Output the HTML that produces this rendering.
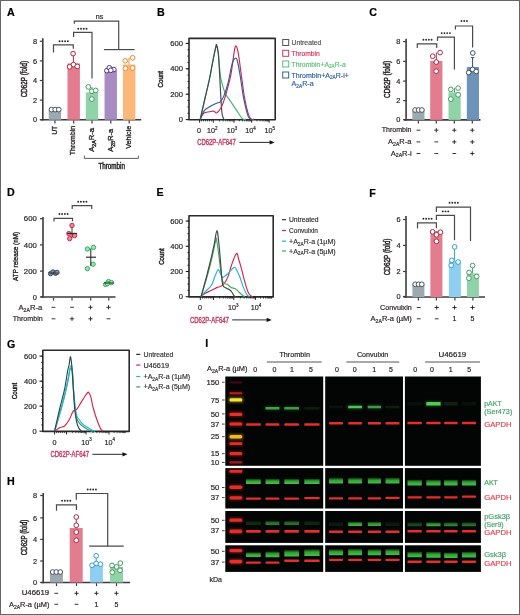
<!DOCTYPE html><html><head><meta charset="utf-8"><style>html,body{margin:0;padding:0;background:#fff;}svg{display:block;will-change:transform;}</style></head><body>
<svg width="520" height="615" viewBox="0 0 520 615" font-family='"Liberation Sans", sans-serif'>
<defs><filter id="bl" x="-20%" y="-100%" width="140%" height="300%"><feGaussianBlur stdDeviation="0.45"/></filter><filter id="bl2" x="-30%" y="-200%" width="160%" height="500%"><feGaussianBlur stdDeviation="1.2"/></filter><linearGradient id="gg" x1="0" y1="0" x2="0" y2="1"><stop offset="0" stop-color="#2a9a2e" stop-opacity="0.35"/><stop offset="0.4" stop-color="#3cc43c" stop-opacity="0.9"/><stop offset="1" stop-color="#50d450" stop-opacity="1"/></linearGradient></defs>
<rect x="0.00" y="0.00" width="520.00" height="615.00" fill="#fff"/>
<text x="7.00" y="16.00" font-size="10.7" fill="#000" stroke="#000" stroke-width="0.2" font-weight="bold">A</text>
<line x1="42.80" y1="38.30" x2="42.80" y2="120.60" stroke="#3c3c3c" stroke-width="1.6"/>
<line x1="40.40" y1="119.80" x2="141.20" y2="119.80" stroke="#3c3c3c" stroke-width="1.6"/>
<line x1="39.80" y1="119.70" x2="42.80" y2="119.70" stroke="#3c3c3c" stroke-width="1.2"/>
<text x="37.20" y="122.36" font-size="7.4" fill="#231f20" stroke="#231f20" stroke-width="0.18" text-anchor="end">0</text>
<line x1="39.80" y1="100.10" x2="42.80" y2="100.10" stroke="#3c3c3c" stroke-width="1.2"/>
<text x="37.20" y="102.76" font-size="7.4" fill="#231f20" stroke="#231f20" stroke-width="0.18" text-anchor="end">2</text>
<line x1="39.80" y1="80.50" x2="42.80" y2="80.50" stroke="#3c3c3c" stroke-width="1.2"/>
<text x="37.20" y="83.16" font-size="7.4" fill="#231f20" stroke="#231f20" stroke-width="0.18" text-anchor="end">4</text>
<line x1="39.80" y1="60.90" x2="42.80" y2="60.90" stroke="#3c3c3c" stroke-width="1.2"/>
<text x="37.20" y="63.56" font-size="7.4" fill="#231f20" stroke="#231f20" stroke-width="0.18" text-anchor="end">6</text>
<line x1="39.80" y1="41.30" x2="42.80" y2="41.30" stroke="#3c3c3c" stroke-width="1.2"/>
<text x="37.20" y="43.96" font-size="7.4" fill="#231f20" stroke="#231f20" stroke-width="0.18" text-anchor="end">8</text>
<rect x="48.70" y="109.60" width="12.40" height="10.20" fill="#9da8b1"/>
<rect x="67.50" y="63.40" width="12.40" height="56.40" fill="#e27c8e"/>
<rect x="85.80" y="92.40" width="12.40" height="27.40" fill="#8fd3a7"/>
<rect x="104.55" y="70.30" width="12.40" height="49.50" fill="#a68cc1"/>
<rect x="123.00" y="64.50" width="12.40" height="55.30" fill="#fcb878"/>
<line x1="54.90" y1="120.60" x2="54.90" y2="123.40" stroke="#3c3c3c" stroke-width="1.2"/>
<line x1="73.70" y1="120.60" x2="73.70" y2="123.40" stroke="#3c3c3c" stroke-width="1.2"/>
<line x1="92.00" y1="120.60" x2="92.00" y2="123.40" stroke="#3c3c3c" stroke-width="1.2"/>
<line x1="110.75" y1="120.60" x2="110.75" y2="123.40" stroke="#3c3c3c" stroke-width="1.2"/>
<line x1="129.20" y1="120.60" x2="129.20" y2="123.40" stroke="#3c3c3c" stroke-width="1.2"/>
<line x1="73.40" y1="53.60" x2="73.40" y2="63.40" stroke="#ab2d4a" stroke-width="1.0"/>
<line x1="129.00" y1="57.80" x2="129.00" y2="64.50" stroke="#ee8a30" stroke-width="1.0"/>
<line x1="92.00" y1="87.00" x2="92.00" y2="92.40" stroke="#449d62" stroke-width="1.0"/>
<circle cx="51.50" cy="109.60" r="2.35" stroke="#4a5560" stroke-width="1.0" fill="#fff"/>
<circle cx="55.20" cy="109.60" r="2.35" stroke="#4a5560" stroke-width="1.0" fill="#fff"/>
<circle cx="58.80" cy="109.60" r="2.35" stroke="#4a5560" stroke-width="1.0" fill="#fff"/>
<circle cx="73.10" cy="53.60" r="2.35" stroke="#ab2d4a" stroke-width="1.0" fill="#fff"/>
<circle cx="69.60" cy="66.80" r="2.35" stroke="#ab2d4a" stroke-width="1.0" fill="#fff"/>
<circle cx="73.50" cy="64.60" r="2.35" stroke="#ab2d4a" stroke-width="1.0" fill="#fff"/>
<circle cx="77.30" cy="66.40" r="2.35" stroke="#ab2d4a" stroke-width="1.0" fill="#fff"/>
<circle cx="88.30" cy="86.90" r="2.35" stroke="#449d62" stroke-width="1.0" fill="#fff"/>
<circle cx="91.80" cy="91.30" r="2.35" stroke="#449d62" stroke-width="1.0" fill="#fff"/>
<circle cx="95.70" cy="90.40" r="2.35" stroke="#449d62" stroke-width="1.0" fill="#fff"/>
<circle cx="91.80" cy="99.10" r="2.35" stroke="#449d62" stroke-width="1.0" fill="#fff"/>
<circle cx="106.90" cy="70.60" r="2.35" stroke="#553a86" stroke-width="1.0" fill="#fff"/>
<circle cx="109.30" cy="67.80" r="2.35" stroke="#553a86" stroke-width="1.0" fill="#fff"/>
<circle cx="113.80" cy="69.50" r="2.35" stroke="#553a86" stroke-width="1.0" fill="#fff"/>
<circle cx="110.80" cy="70.30" r="2.35" stroke="#553a86" stroke-width="1.0" fill="#fff"/>
<circle cx="125.20" cy="60.80" r="2.35" stroke="#ee8a30" stroke-width="1.0" fill="#fff"/>
<circle cx="132.70" cy="57.80" r="2.35" stroke="#ee8a30" stroke-width="1.0" fill="#fff"/>
<circle cx="125.40" cy="68.40" r="2.35" stroke="#ee8a30" stroke-width="1.0" fill="#fff"/>
<circle cx="132.50" cy="68.00" r="2.35" stroke="#ee8a30" stroke-width="1.0" fill="#fff"/>
<path d="M53.5,52.6 V44.9 H73.3 V48.8" stroke="#4a4a4a" stroke-width="1.2" fill="none"/>
<circle cx="59.58" cy="41.30" r="0.95" fill="#2a2a2a"/>
<circle cx="62.33" cy="41.30" r="0.95" fill="#2a2a2a"/>
<circle cx="65.08" cy="41.30" r="0.95" fill="#2a2a2a"/>
<circle cx="67.83" cy="41.30" r="0.95" fill="#2a2a2a"/>
<path d="M73.6,37.0 V32.3 H92.0 V78.6" stroke="#4a4a4a" stroke-width="1.2" fill="none"/>
<circle cx="78.28" cy="28.70" r="0.95" fill="#2a2a2a"/>
<circle cx="81.03" cy="28.70" r="0.95" fill="#2a2a2a"/>
<circle cx="83.78" cy="28.70" r="0.95" fill="#2a2a2a"/>
<circle cx="86.53" cy="28.70" r="0.95" fill="#2a2a2a"/>
<path d="M74.3,23.8 V21.1 H118.7 V49.6" stroke="#4a4a4a" stroke-width="1.2" fill="none"/>
<path d="M103.9,49.6 H134.6" stroke="#4a4a4a" stroke-width="1.2" fill="none"/>
<text x="99.50" y="18.50" font-size="7.2" fill="#231f20" stroke="#231f20" stroke-width="0.18" text-anchor="middle">ns</text>
<text x="56.91" y="126.00" font-size="7.4" fill="#231f20" stroke="#231f20" stroke-width="0.32" text-anchor="end" textLength="8.60" lengthAdjust="spacingAndGlyphs" transform="rotate(-90 56.91 126.00)">UT</text>
<text x="75.16" y="125.80" font-size="7.4" fill="#231f20" stroke="#231f20" stroke-width="0.32" text-anchor="end" textLength="29.40" lengthAdjust="spacingAndGlyphs" transform="rotate(-90 75.16 125.80)">Thrombin</text>
<text x="94.26" y="128.00" font-size="7.4" fill="#231f20" stroke="#231f20" stroke-width="0.32" text-anchor="end" textLength="23.80" lengthAdjust="spacingAndGlyphs" transform="rotate(-90 94.26 128.00)">A<tspan font-size="0.68em" dy="1.8">2A</tspan><tspan dy="-1.8">R-a</tspan></text>
<text x="112.86" y="128.80" font-size="7.4" fill="#231f20" stroke="#231f20" stroke-width="0.32" text-anchor="end" textLength="23.00" lengthAdjust="spacingAndGlyphs" transform="rotate(-90 112.86 128.80)">A<tspan font-size="0.68em" dy="1.8">2B</tspan><tspan dy="-1.8">R-a</tspan></text>
<text x="130.76" y="125.80" font-size="7.4" fill="#231f20" stroke="#231f20" stroke-width="0.32" text-anchor="end" textLength="23.00" lengthAdjust="spacingAndGlyphs" transform="rotate(-90 130.76 125.80)">Vehicle</text>
<path d="M84.4,155.6 V158.4 H138.4 V155.6" stroke="#4a4a4a" stroke-width="0.9" fill="none"/>
<text x="111.70" y="169.10" font-size="8.2" fill="#231f20" stroke="#231f20" stroke-width="0.45" text-anchor="middle" textLength="26.60" lengthAdjust="spacingAndGlyphs">Thrombin</text>
<text x="27.20" y="79.10" font-size="8.2" fill="#231f20" stroke="#231f20" stroke-width="0.45" text-anchor="middle" textLength="36.20" lengthAdjust="spacingAndGlyphs" transform="rotate(-90 27.20 79.10)">CD62P (fold)</text>
<text x="157.00" y="16.00" font-size="10.7" fill="#000" stroke="#000" stroke-width="0.2" font-weight="bold">B</text>
<rect x="189.00" y="38.40" width="86.20" height="81.30" fill="none" stroke="#2a2a2a" stroke-width="1.6" stroke-linejoin="round"/>
<line x1="185.70" y1="119.60" x2="189.00" y2="119.60" stroke="#1e1e1e" stroke-width="1.1"/>
<text x="182.90" y="122.19" font-size="7.2" fill="#231f20" stroke="#231f20" stroke-width="0.18" text-anchor="end" textLength="4.20" lengthAdjust="spacingAndGlyphs">0</text>
<line x1="185.70" y1="94.20" x2="189.00" y2="94.20" stroke="#1e1e1e" stroke-width="1.1"/>
<text x="182.90" y="96.79" font-size="7.2" fill="#231f20" stroke="#231f20" stroke-width="0.18" text-anchor="end" textLength="12.70" lengthAdjust="spacingAndGlyphs">200</text>
<line x1="185.70" y1="68.80" x2="189.00" y2="68.80" stroke="#1e1e1e" stroke-width="1.1"/>
<text x="182.90" y="71.39" font-size="7.2" fill="#231f20" stroke="#231f20" stroke-width="0.18" text-anchor="end" textLength="12.70" lengthAdjust="spacingAndGlyphs">400</text>
<line x1="185.70" y1="43.40" x2="189.00" y2="43.40" stroke="#1e1e1e" stroke-width="1.1"/>
<text x="182.90" y="45.99" font-size="7.2" fill="#231f20" stroke="#231f20" stroke-width="0.18" text-anchor="end" textLength="12.70" lengthAdjust="spacingAndGlyphs">600</text>
<line x1="187.40" y1="113.25" x2="189.00" y2="113.25" stroke="#1e1e1e" stroke-width="0.9"/>
<line x1="187.40" y1="106.90" x2="189.00" y2="106.90" stroke="#1e1e1e" stroke-width="0.9"/>
<line x1="187.40" y1="100.55" x2="189.00" y2="100.55" stroke="#1e1e1e" stroke-width="0.9"/>
<line x1="187.40" y1="94.20" x2="189.00" y2="94.20" stroke="#1e1e1e" stroke-width="0.9"/>
<line x1="187.40" y1="87.85" x2="189.00" y2="87.85" stroke="#1e1e1e" stroke-width="0.9"/>
<line x1="187.40" y1="81.50" x2="189.00" y2="81.50" stroke="#1e1e1e" stroke-width="0.9"/>
<line x1="187.40" y1="75.15" x2="189.00" y2="75.15" stroke="#1e1e1e" stroke-width="0.9"/>
<line x1="187.40" y1="68.80" x2="189.00" y2="68.80" stroke="#1e1e1e" stroke-width="0.9"/>
<line x1="187.40" y1="62.45" x2="189.00" y2="62.45" stroke="#1e1e1e" stroke-width="0.9"/>
<line x1="187.40" y1="56.10" x2="189.00" y2="56.10" stroke="#1e1e1e" stroke-width="0.9"/>
<line x1="187.40" y1="49.75" x2="189.00" y2="49.75" stroke="#1e1e1e" stroke-width="0.9"/>
<line x1="187.40" y1="43.40" x2="189.00" y2="43.40" stroke="#1e1e1e" stroke-width="0.9"/>
<line x1="201.50" y1="119.70" x2="201.50" y2="121.40" stroke="#1e1e1e" stroke-width="0.8"/>
<line x1="203.50" y1="119.70" x2="203.50" y2="121.40" stroke="#1e1e1e" stroke-width="0.8"/>
<line x1="205.50" y1="119.70" x2="205.50" y2="121.40" stroke="#1e1e1e" stroke-width="0.8"/>
<line x1="207.50" y1="119.70" x2="207.50" y2="121.40" stroke="#1e1e1e" stroke-width="0.8"/>
<line x1="209.50" y1="119.70" x2="209.50" y2="121.40" stroke="#1e1e1e" stroke-width="0.8"/>
<line x1="211.40" y1="119.70" x2="211.40" y2="121.40" stroke="#1e1e1e" stroke-width="0.8"/>
<line x1="219.53" y1="119.70" x2="219.53" y2="121.40" stroke="#1e1e1e" stroke-width="0.8"/>
<line x1="223.18" y1="119.70" x2="223.18" y2="121.40" stroke="#1e1e1e" stroke-width="0.8"/>
<line x1="225.76" y1="119.70" x2="225.76" y2="121.40" stroke="#1e1e1e" stroke-width="0.8"/>
<line x1="227.77" y1="119.70" x2="227.77" y2="121.40" stroke="#1e1e1e" stroke-width="0.8"/>
<line x1="229.41" y1="119.70" x2="229.41" y2="121.40" stroke="#1e1e1e" stroke-width="0.8"/>
<line x1="230.79" y1="119.70" x2="230.79" y2="121.40" stroke="#1e1e1e" stroke-width="0.8"/>
<line x1="231.99" y1="119.70" x2="231.99" y2="121.40" stroke="#1e1e1e" stroke-width="0.8"/>
<line x1="233.05" y1="119.70" x2="233.05" y2="121.40" stroke="#1e1e1e" stroke-width="0.8"/>
<line x1="239.33" y1="119.70" x2="239.33" y2="121.40" stroke="#1e1e1e" stroke-width="0.8"/>
<line x1="242.45" y1="119.70" x2="242.45" y2="121.40" stroke="#1e1e1e" stroke-width="0.8"/>
<line x1="244.66" y1="119.70" x2="244.66" y2="121.40" stroke="#1e1e1e" stroke-width="0.8"/>
<line x1="246.37" y1="119.70" x2="246.37" y2="121.40" stroke="#1e1e1e" stroke-width="0.8"/>
<line x1="247.77" y1="119.70" x2="247.77" y2="121.40" stroke="#1e1e1e" stroke-width="0.8"/>
<line x1="248.96" y1="119.70" x2="248.96" y2="121.40" stroke="#1e1e1e" stroke-width="0.8"/>
<line x1="249.98" y1="119.70" x2="249.98" y2="121.40" stroke="#1e1e1e" stroke-width="0.8"/>
<line x1="250.89" y1="119.70" x2="250.89" y2="121.40" stroke="#1e1e1e" stroke-width="0.8"/>
<line x1="256.94" y1="119.70" x2="256.94" y2="121.40" stroke="#1e1e1e" stroke-width="0.8"/>
<line x1="260.00" y1="119.70" x2="260.00" y2="121.40" stroke="#1e1e1e" stroke-width="0.8"/>
<line x1="262.18" y1="119.70" x2="262.18" y2="121.40" stroke="#1e1e1e" stroke-width="0.8"/>
<line x1="263.86" y1="119.70" x2="263.86" y2="121.40" stroke="#1e1e1e" stroke-width="0.8"/>
<line x1="265.24" y1="119.70" x2="265.24" y2="121.40" stroke="#1e1e1e" stroke-width="0.8"/>
<line x1="266.40" y1="119.70" x2="266.40" y2="121.40" stroke="#1e1e1e" stroke-width="0.8"/>
<line x1="267.41" y1="119.70" x2="267.41" y2="121.40" stroke="#1e1e1e" stroke-width="0.8"/>
<line x1="268.30" y1="119.70" x2="268.30" y2="121.40" stroke="#1e1e1e" stroke-width="0.8"/>
<line x1="199.60" y1="119.70" x2="199.60" y2="122.70" stroke="#1e1e1e" stroke-width="1.0"/>
<line x1="213.30" y1="119.70" x2="213.30" y2="122.70" stroke="#1e1e1e" stroke-width="1.0"/>
<line x1="234.00" y1="119.70" x2="234.00" y2="122.70" stroke="#1e1e1e" stroke-width="1.0"/>
<line x1="251.70" y1="119.70" x2="251.70" y2="122.70" stroke="#1e1e1e" stroke-width="1.0"/>
<line x1="269.10" y1="119.70" x2="269.10" y2="122.70" stroke="#1e1e1e" stroke-width="1.0"/>
<text x="199.10" y="132.89" font-size="7.2" fill="#231f20" stroke="#231f20" stroke-width="0.18" text-anchor="middle">0</text>
<text x="206.90" y="132.70" font-size="7.2" fill="#231f20" stroke="#231f20" stroke-width="0.18">10<tspan font-size="4.46" dy="-3.2">2</tspan></text>
<text x="226.70" y="132.70" font-size="7.2" fill="#231f20" stroke="#231f20" stroke-width="0.18">10<tspan font-size="4.46" dy="-3.2">3</tspan></text>
<text x="245.30" y="132.70" font-size="7.2" fill="#231f20" stroke="#231f20" stroke-width="0.18">10<tspan font-size="4.46" dy="-3.2">4</tspan></text>
<text x="264.50" y="132.70" font-size="7.2" fill="#231f20" stroke="#231f20" stroke-width="0.18">10<tspan font-size="4.46" dy="-3.2">5</tspan></text>
<text x="163.50" y="79.20" font-size="7.6" fill="#231f20" stroke="#231f20" stroke-width="0.45" text-anchor="middle" textLength="16.60" lengthAdjust="spacingAndGlyphs" transform="rotate(-90 163.50 79.20)">Count</text>
<text x="197.20" y="145.35" font-size="8.2" fill="#c43a60" stroke="#c43a60" stroke-width="0.4" textLength="38.50" lengthAdjust="spacingAndGlyphs">CD62P-AF647</text>
<line x1="239.50" y1="142.40" x2="271.10" y2="142.40" stroke="#111" stroke-width="0.9"/>
<path d="M274.60,142.40 L269.60,140.30 L269.60,144.50 Z" fill="#111"/>
<path d="M200.20,119.40 C201.03,115.75 203.65,104.25 205.20,97.50 C206.75,90.75 208.20,85.10 209.50,78.90 C210.80,72.70 211.93,65.67 213.00,60.30 C214.07,54.93 215.30,49.20 215.90,46.70 C216.50,44.20 216.20,44.22 216.60,45.30 C217.00,46.38 217.82,49.58 218.30,53.20 C218.78,56.82 219.07,62.72 219.50,67.00 C219.93,71.28 219.95,74.53 220.90,78.90 C221.85,83.27 223.53,89.38 225.20,93.20 C226.87,97.02 229.00,98.93 230.90,101.80 C232.80,104.67 234.68,107.60 236.60,110.40 C238.52,113.20 240.83,117.10 242.40,118.60 C243.97,120.10 245.40,119.27 246.00,119.40" stroke="#3fb36a" stroke-width="1.15" fill="none" stroke-linejoin="round"/>
<path d="M200.20,119.40 C201.03,115.75 203.65,104.25 205.20,97.50 C206.75,90.75 208.20,85.10 209.50,78.90 C210.80,72.70 211.93,65.67 213.00,60.30 C214.07,54.93 215.30,49.25 215.90,46.70 C216.50,44.15 216.20,43.92 216.60,45.00 C217.00,46.08 217.82,48.73 218.30,53.20 C218.78,57.67 219.12,65.13 219.50,71.80 C219.88,78.47 220.18,86.28 220.60,93.20 C221.02,100.12 221.47,109.00 222.00,113.30 C222.53,117.60 223.13,117.98 223.80,119.00 C224.47,120.02 225.63,119.33 226.00,119.40" stroke="#3d4a4a" stroke-width="1.15" fill="none" stroke-linejoin="round"/>
<path d="M200.20,119.40 C200.78,118.38 202.15,114.57 203.70,113.30 C205.25,112.03 207.82,112.17 209.50,111.80 C211.18,111.43 212.62,110.90 213.80,111.10 C214.98,111.30 215.53,113.35 216.60,113.00 C217.67,112.65 219.13,110.63 220.20,109.00 C221.27,107.37 221.93,106.07 223.00,103.20 C224.07,100.33 225.28,96.57 226.60,91.80 C227.92,87.03 229.70,80.80 230.90,74.60 C232.10,68.40 233.02,59.37 233.80,54.60 C234.58,49.83 234.90,46.48 235.60,46.00 C236.30,45.52 237.12,47.40 238.00,51.70 C238.88,56.00 239.82,64.17 240.90,71.80 C241.98,79.43 243.30,90.58 244.50,97.50 C245.70,104.42 247.02,109.72 248.10,113.30 C249.18,116.88 250.02,117.98 251.00,119.00 C251.98,120.02 253.50,119.33 254.00,119.40" stroke="#d0284c" stroke-width="1.15" fill="none" stroke-linejoin="round"/>
<path d="M200.20,119.40 C200.92,117.90 202.72,112.62 204.50,110.40 C206.28,108.18 208.88,107.30 210.90,106.10 C212.92,104.90 215.05,103.92 216.60,103.20 C218.15,102.48 219.00,102.98 220.20,101.80 C221.40,100.62 222.50,99.20 223.80,96.10 C225.10,93.00 226.58,88.68 228.00,83.20 C229.42,77.72 231.10,67.37 232.30,63.20 C233.50,59.03 234.35,58.57 235.20,58.20 C236.05,57.83 236.57,58.03 237.40,61.00 C238.23,63.97 239.13,69.68 240.20,76.00 C241.27,82.32 242.48,92.22 243.80,98.90 C245.12,105.58 246.90,112.72 248.10,116.10 C249.30,119.48 250.02,118.65 251.00,119.20 C251.98,119.75 253.50,119.37 254.00,119.40" stroke="#2c5d9c" stroke-width="1.15" fill="none" stroke-linejoin="round"/>
<rect x="282.70" y="39.50" width="6" height="6" fill="none" stroke="#555" stroke-width="1"/>
<text x="291.50" y="45.02" font-size="7" fill="#555" stroke="#555" stroke-width="0.18" textLength="29.90" lengthAdjust="spacingAndGlyphs">Untreated</text>
<rect x="282.70" y="50.30" width="6" height="6" fill="none" stroke="#d0385a" stroke-width="1"/>
<text x="291.50" y="55.82" font-size="7" fill="#d0385a" stroke="#d0385a" stroke-width="0.18" textLength="28.30" lengthAdjust="spacingAndGlyphs">Thrombin</text>
<rect x="282.70" y="61.00" width="6" height="6" fill="none" stroke="#5cbf78" stroke-width="1"/>
<text x="291.50" y="66.52" font-size="7" fill="#5cbf78" stroke="#5cbf78" stroke-width="0.18" textLength="54.20" lengthAdjust="spacingAndGlyphs">Thrombin+A<tspan font-size="0.68em" dy="1.8">2A</tspan><tspan dy="-1.8">R-a</tspan></text>
<rect x="282.70" y="72.00" width="6" height="6" fill="none" stroke="#2f62a0" stroke-width="1"/>
<text x="291.50" y="77.52" font-size="7" fill="#2f62a0" stroke="#2f62a0" stroke-width="0.18" textLength="57.30" lengthAdjust="spacingAndGlyphs">Thrombin+A<tspan font-size="0.68em" dy="1.8">2A</tspan><tspan dy="-1.8">R-i+</tspan></text>
<text x="291.50" y="86.42" font-size="7" fill="#2f62a0" stroke="#2f62a0" stroke-width="0.18" textLength="22.20" lengthAdjust="spacingAndGlyphs">A<tspan font-size="0.68em" dy="1.8">2A</tspan><tspan dy="-1.8">R-a</tspan></text>
<text x="369.20" y="16.00" font-size="10.7" fill="#000" stroke="#000" stroke-width="0.2" font-weight="bold">C</text>
<line x1="406.10" y1="38.80" x2="406.10" y2="120.70" stroke="#3c3c3c" stroke-width="1.6"/>
<line x1="403.80" y1="119.90" x2="480.50" y2="119.90" stroke="#3c3c3c" stroke-width="1.6"/>
<line x1="403.10" y1="119.60" x2="406.10" y2="119.60" stroke="#3c3c3c" stroke-width="1.2"/>
<text x="400.30" y="122.26" font-size="7.4" fill="#231f20" stroke="#231f20" stroke-width="0.18" text-anchor="end">0</text>
<line x1="403.10" y1="100.60" x2="406.10" y2="100.60" stroke="#3c3c3c" stroke-width="1.2"/>
<text x="400.30" y="103.26" font-size="7.4" fill="#231f20" stroke="#231f20" stroke-width="0.18" text-anchor="end">2</text>
<line x1="403.10" y1="81.10" x2="406.10" y2="81.10" stroke="#3c3c3c" stroke-width="1.2"/>
<text x="400.30" y="83.76" font-size="7.4" fill="#231f20" stroke="#231f20" stroke-width="0.18" text-anchor="end">4</text>
<line x1="403.10" y1="61.40" x2="406.10" y2="61.40" stroke="#3c3c3c" stroke-width="1.2"/>
<text x="400.30" y="64.06" font-size="7.4" fill="#231f20" stroke="#231f20" stroke-width="0.18" text-anchor="end">6</text>
<line x1="403.10" y1="41.60" x2="406.10" y2="41.60" stroke="#3c3c3c" stroke-width="1.2"/>
<text x="400.30" y="44.26" font-size="7.4" fill="#231f20" stroke="#231f20" stroke-width="0.18" text-anchor="end">8</text>
<rect x="412.30" y="110.00" width="12.20" height="9.90" fill="#9da8b1"/>
<rect x="430.20" y="61.00" width="12.20" height="58.90" fill="#e27c8e"/>
<rect x="448.50" y="92.30" width="12.20" height="27.60" fill="#8fd3a7"/>
<rect x="466.80" y="67.00" width="12.20" height="52.90" fill="#6d93b8"/>
<line x1="418.40" y1="120.70" x2="418.40" y2="123.50" stroke="#3c3c3c" stroke-width="1.2"/>
<line x1="436.30" y1="120.70" x2="436.30" y2="123.50" stroke="#3c3c3c" stroke-width="1.2"/>
<line x1="454.30" y1="120.70" x2="454.30" y2="123.50" stroke="#3c3c3c" stroke-width="1.2"/>
<line x1="472.30" y1="120.70" x2="472.30" y2="123.50" stroke="#3c3c3c" stroke-width="1.2"/>
<line x1="436.30" y1="52.50" x2="436.30" y2="61.00" stroke="#ab2d4a" stroke-width="1.0"/>
<line x1="472.60" y1="57.60" x2="472.60" y2="67.00" stroke="#3a4c60" stroke-width="1.0"/>
<line x1="471.00" y1="57.60" x2="474.20" y2="57.60" stroke="#3a4c60" stroke-width="1.0"/>
<circle cx="415.10" cy="110.00" r="2.35" stroke="#4a5560" stroke-width="1.0" fill="#fff"/>
<circle cx="418.50" cy="110.00" r="2.35" stroke="#4a5560" stroke-width="1.0" fill="#fff"/>
<circle cx="421.90" cy="110.00" r="2.35" stroke="#4a5560" stroke-width="1.0" fill="#fff"/>
<circle cx="432.70" cy="56.20" r="2.35" stroke="#ab2d4a" stroke-width="1.0" fill="#fff"/>
<circle cx="440.10" cy="52.60" r="2.35" stroke="#ab2d4a" stroke-width="1.0" fill="#fff"/>
<circle cx="436.30" cy="62.10" r="2.35" stroke="#ab2d4a" stroke-width="1.0" fill="#fff"/>
<circle cx="436.20" cy="71.20" r="2.35" stroke="#ab2d4a" stroke-width="1.0" fill="#fff"/>
<line x1="454.50" y1="88.20" x2="454.50" y2="92.30" stroke="#449d62" stroke-width="1.0"/>
<circle cx="450.80" cy="89.40" r="2.35" stroke="#449d62" stroke-width="1.0" fill="#fff"/>
<circle cx="458.10" cy="88.10" r="2.35" stroke="#449d62" stroke-width="1.0" fill="#fff"/>
<circle cx="458.10" cy="94.80" r="2.35" stroke="#449d62" stroke-width="1.0" fill="#fff"/>
<circle cx="450.80" cy="99.10" r="2.35" stroke="#449d62" stroke-width="1.0" fill="#fff"/>
<circle cx="472.80" cy="53.00" r="2.35" stroke="#3a5068" stroke-width="1.0" fill="#fff"/>
<circle cx="468.70" cy="72.60" r="2.35" stroke="#3a5068" stroke-width="1.0" fill="#fff"/>
<circle cx="472.60" cy="69.40" r="2.35" stroke="#3a5068" stroke-width="1.0" fill="#fff"/>
<circle cx="476.20" cy="71.50" r="2.35" stroke="#3a5068" stroke-width="1.0" fill="#fff"/>
<path d="M417.3,47.9 V43.8 H436.7 V47.9" stroke="#4a4a4a" stroke-width="1.2" fill="none"/>
<circle cx="423.38" cy="39.80" r="0.95" fill="#2a2a2a"/>
<circle cx="426.12" cy="39.80" r="0.95" fill="#2a2a2a"/>
<circle cx="428.88" cy="39.80" r="0.95" fill="#2a2a2a"/>
<circle cx="431.62" cy="39.80" r="0.95" fill="#2a2a2a"/>
<path d="M437.5,41.0 V37.1 H454.4 V69.6" stroke="#4a4a4a" stroke-width="1.2" fill="none"/>
<circle cx="441.68" cy="33.10" r="0.95" fill="#2a2a2a"/>
<circle cx="444.43" cy="33.10" r="0.95" fill="#2a2a2a"/>
<circle cx="447.18" cy="33.10" r="0.95" fill="#2a2a2a"/>
<circle cx="449.93" cy="33.10" r="0.95" fill="#2a2a2a"/>
<path d="M455.4,29.4 V26.0 H472.6 V47.6" stroke="#4a4a4a" stroke-width="1.2" fill="none"/>
<circle cx="461.45" cy="21.00" r="0.95" fill="#2a2a2a"/>
<circle cx="464.20" cy="21.00" r="0.95" fill="#2a2a2a"/>
<circle cx="466.95" cy="21.00" r="0.95" fill="#2a2a2a"/>
<text x="389.70" y="79.40" font-size="8.2" fill="#231f20" stroke="#231f20" stroke-width="0.45" text-anchor="middle" textLength="37.00" lengthAdjust="spacingAndGlyphs" transform="rotate(-90 389.70 79.40)">CD62P (fold)</text>
<text x="411.50" y="132.10" font-size="7" fill="#231f20" stroke="#231f20" stroke-width="0.18" text-anchor="end" textLength="29.80" lengthAdjust="spacingAndGlyphs">Thrombin</text>
<text x="411.30" y="143.90" font-size="7" fill="#231f20" stroke="#231f20" stroke-width="0.18" text-anchor="end" textLength="23.20" lengthAdjust="spacingAndGlyphs">A<tspan font-size="0.68em" dy="1.8">2A</tspan><tspan dy="-1.8">R-a</tspan></text>
<text x="411.80" y="155.50" font-size="7" fill="#231f20" stroke="#231f20" stroke-width="0.18" text-anchor="end" textLength="21.10" lengthAdjust="spacingAndGlyphs">A<tspan font-size="0.68em" dy="1.8">2A</tspan><tspan dy="-1.8">R-i</tspan></text>
<line x1="416.50" y1="130.20" x2="420.30" y2="130.20" stroke="#231f20" stroke-width="0.9"/>
<line x1="416.50" y1="141.90" x2="420.30" y2="141.90" stroke="#231f20" stroke-width="0.9"/>
<line x1="416.50" y1="153.50" x2="420.30" y2="153.50" stroke="#231f20" stroke-width="0.9"/>
<line x1="434.20" y1="130.20" x2="438.40" y2="130.20" stroke="#231f20" stroke-width="0.9"/>
<line x1="436.30" y1="128.10" x2="436.30" y2="132.30" stroke="#231f20" stroke-width="0.9"/>
<line x1="434.40" y1="141.90" x2="438.20" y2="141.90" stroke="#231f20" stroke-width="0.9"/>
<line x1="434.40" y1="153.50" x2="438.20" y2="153.50" stroke="#231f20" stroke-width="0.9"/>
<line x1="452.20" y1="130.20" x2="456.40" y2="130.20" stroke="#231f20" stroke-width="0.9"/>
<line x1="454.30" y1="128.10" x2="454.30" y2="132.30" stroke="#231f20" stroke-width="0.9"/>
<line x1="452.20" y1="141.90" x2="456.40" y2="141.90" stroke="#231f20" stroke-width="0.9"/>
<line x1="454.30" y1="139.80" x2="454.30" y2="144.00" stroke="#231f20" stroke-width="0.9"/>
<line x1="452.40" y1="153.50" x2="456.20" y2="153.50" stroke="#231f20" stroke-width="0.9"/>
<line x1="470.20" y1="130.20" x2="474.40" y2="130.20" stroke="#231f20" stroke-width="0.9"/>
<line x1="472.30" y1="128.10" x2="472.30" y2="132.30" stroke="#231f20" stroke-width="0.9"/>
<line x1="470.20" y1="141.90" x2="474.40" y2="141.90" stroke="#231f20" stroke-width="0.9"/>
<line x1="472.30" y1="139.80" x2="472.30" y2="144.00" stroke="#231f20" stroke-width="0.9"/>
<line x1="470.20" y1="153.50" x2="474.40" y2="153.50" stroke="#231f20" stroke-width="0.9"/>
<line x1="472.30" y1="151.40" x2="472.30" y2="155.60" stroke="#231f20" stroke-width="0.9"/>
<text x="7.00" y="196.20" font-size="10.7" fill="#000" stroke="#000" stroke-width="0.2" font-weight="bold">D</text>
<line x1="43.00" y1="217.00" x2="43.00" y2="297.80" stroke="#3c3c3c" stroke-width="1.6"/>
<line x1="40.80" y1="297.00" x2="115.50" y2="297.00" stroke="#3c3c3c" stroke-width="1.6"/>
<line x1="40.00" y1="296.90" x2="43.00" y2="296.90" stroke="#3c3c3c" stroke-width="1.2"/>
<text x="36.80" y="299.56" font-size="7.4" fill="#231f20" stroke="#231f20" stroke-width="0.18" text-anchor="end">0</text>
<line x1="40.00" y1="271.10" x2="43.00" y2="271.10" stroke="#3c3c3c" stroke-width="1.2"/>
<text x="36.80" y="273.76" font-size="7.4" fill="#231f20" stroke="#231f20" stroke-width="0.18" text-anchor="end" textLength="13.00" lengthAdjust="spacingAndGlyphs">200</text>
<line x1="40.00" y1="244.90" x2="43.00" y2="244.90" stroke="#3c3c3c" stroke-width="1.2"/>
<text x="36.80" y="247.56" font-size="7.4" fill="#231f20" stroke="#231f20" stroke-width="0.18" text-anchor="end" textLength="13.00" lengthAdjust="spacingAndGlyphs">400</text>
<line x1="40.00" y1="218.70" x2="43.00" y2="218.70" stroke="#3c3c3c" stroke-width="1.2"/>
<text x="36.80" y="221.36" font-size="7.4" fill="#231f20" stroke="#231f20" stroke-width="0.18" text-anchor="end" textLength="13.00" lengthAdjust="spacingAndGlyphs">600</text>
<line x1="53.50" y1="297.80" x2="53.50" y2="300.60" stroke="#3c3c3c" stroke-width="1.2"/>
<line x1="72.00" y1="297.80" x2="72.00" y2="300.60" stroke="#3c3c3c" stroke-width="1.2"/>
<line x1="90.70" y1="297.80" x2="90.70" y2="300.60" stroke="#3c3c3c" stroke-width="1.2"/>
<line x1="108.80" y1="297.80" x2="108.80" y2="300.60" stroke="#3c3c3c" stroke-width="1.2"/>
<text x="17.60" y="256.40" font-size="7.6" fill="#231f20" stroke="#231f20" stroke-width="0.35" text-anchor="middle" textLength="49.00" lengthAdjust="spacingAndGlyphs" transform="rotate(-90 17.60 256.40)">ATP release (nM)</text>
<circle cx="50.60" cy="273.60" r="2.2" stroke="#3a4858" stroke-width="1.0" fill="#8699ac"/>
<circle cx="53.00" cy="272.00" r="2.2" stroke="#3a4858" stroke-width="1.0" fill="#8699ac"/>
<circle cx="55.60" cy="273.20" r="2.2" stroke="#3a4858" stroke-width="1.0" fill="#8699ac"/>
<circle cx="57.00" cy="272.40" r="2.2" stroke="#3a4858" stroke-width="1.0" fill="#8699ac"/>
<circle cx="72.00" cy="225.40" r="2.2" stroke="#cc2a48" stroke-width="1.0" fill="#ef8696"/>
<circle cx="68.90" cy="233.60" r="2.2" stroke="#cc2a48" stroke-width="1.0" fill="#ef8696"/>
<circle cx="74.60" cy="235.60" r="2.2" stroke="#cc2a48" stroke-width="1.0" fill="#ef8696"/>
<circle cx="69.70" cy="238.60" r="2.2" stroke="#cc2a48" stroke-width="1.0" fill="#ef8696"/>
<circle cx="87.40" cy="249.00" r="2.2" stroke="#35b05a" stroke-width="1.0" fill="#9de3b3"/>
<circle cx="93.50" cy="247.40" r="2.2" stroke="#35b05a" stroke-width="1.0" fill="#9de3b3"/>
<circle cx="93.10" cy="264.20" r="2.2" stroke="#35b05a" stroke-width="1.0" fill="#9de3b3"/>
<circle cx="87.40" cy="268.60" r="2.2" stroke="#35b05a" stroke-width="1.0" fill="#9de3b3"/>
<circle cx="105.60" cy="284.40" r="2.2" stroke="#35b05a" stroke-width="1.0" fill="#9de3b3"/>
<circle cx="108.60" cy="281.60" r="2.2" stroke="#35b05a" stroke-width="1.0" fill="#9de3b3"/>
<circle cx="111.50" cy="282.60" r="2.2" stroke="#35b05a" stroke-width="1.0" fill="#9de3b3"/>
<circle cx="107.40" cy="283.60" r="2.2" stroke="#35b05a" stroke-width="1.0" fill="#9de3b3"/>
<line x1="67.20" y1="233.40" x2="77.00" y2="233.40" stroke="#222" stroke-width="1.1"/>
<line x1="72.00" y1="227.50" x2="72.00" y2="237.50" stroke="#222" stroke-width="0.9"/>
<line x1="86.00" y1="257.20" x2="96.00" y2="257.20" stroke="#222" stroke-width="1.1"/>
<line x1="90.80" y1="248.50" x2="90.80" y2="266.00" stroke="#222" stroke-width="1.0"/>
<line x1="104.00" y1="283.00" x2="113.80" y2="283.00" stroke="#222" stroke-width="1.0"/>
<line x1="49.00" y1="273.00" x2="58.50" y2="273.00" stroke="#222" stroke-width="0.8"/>
<path d="M54.0,221.4 V218.3 H72.5 V221.2" stroke="#4a4a4a" stroke-width="1.2" fill="none"/>
<circle cx="59.38" cy="214.00" r="0.95" fill="#2a2a2a"/>
<circle cx="62.12" cy="214.00" r="0.95" fill="#2a2a2a"/>
<circle cx="64.88" cy="214.00" r="0.95" fill="#2a2a2a"/>
<circle cx="67.62" cy="214.00" r="0.95" fill="#2a2a2a"/>
<path d="M72.2,209.0 V205.6 H91.7 V209.0" stroke="#4a4a4a" stroke-width="1.2" fill="none"/>
<circle cx="78.17" cy="201.70" r="0.95" fill="#2a2a2a"/>
<circle cx="80.92" cy="201.70" r="0.95" fill="#2a2a2a"/>
<circle cx="83.67" cy="201.70" r="0.95" fill="#2a2a2a"/>
<circle cx="86.42" cy="201.70" r="0.95" fill="#2a2a2a"/>
<text x="42.20" y="309.80" font-size="7" fill="#231f20" stroke="#231f20" stroke-width="0.18" text-anchor="end" textLength="23.70" lengthAdjust="spacingAndGlyphs">A<tspan font-size="0.68em" dy="1.8">2A</tspan><tspan dy="-1.8">R-a</tspan></text>
<text x="42.70" y="321.30" font-size="7" fill="#231f20" stroke="#231f20" stroke-width="0.18" text-anchor="end" textLength="30.00" lengthAdjust="spacingAndGlyphs">Thrombin</text>
<line x1="51.60" y1="307.30" x2="55.40" y2="307.30" stroke="#231f20" stroke-width="0.9"/>
<line x1="51.60" y1="318.80" x2="55.40" y2="318.80" stroke="#231f20" stroke-width="0.9"/>
<line x1="70.10" y1="307.30" x2="73.90" y2="307.30" stroke="#231f20" stroke-width="0.9"/>
<line x1="69.90" y1="318.80" x2="74.10" y2="318.80" stroke="#231f20" stroke-width="0.9"/>
<line x1="72.00" y1="316.70" x2="72.00" y2="320.90" stroke="#231f20" stroke-width="0.9"/>
<line x1="88.40" y1="307.30" x2="92.60" y2="307.30" stroke="#231f20" stroke-width="0.9"/>
<line x1="90.50" y1="305.20" x2="90.50" y2="309.40" stroke="#231f20" stroke-width="0.9"/>
<line x1="88.40" y1="318.80" x2="92.60" y2="318.80" stroke="#231f20" stroke-width="0.9"/>
<line x1="90.50" y1="316.70" x2="90.50" y2="320.90" stroke="#231f20" stroke-width="0.9"/>
<line x1="106.40" y1="307.30" x2="110.60" y2="307.30" stroke="#231f20" stroke-width="0.9"/>
<line x1="108.50" y1="305.20" x2="108.50" y2="309.40" stroke="#231f20" stroke-width="0.9"/>
<line x1="106.60" y1="318.80" x2="110.40" y2="318.80" stroke="#231f20" stroke-width="0.9"/>
<text x="156.50" y="196.20" font-size="10.7" fill="#000" stroke="#000" stroke-width="0.2" font-weight="bold">E</text>
<rect x="189.00" y="215.80" width="84.20" height="81.10" fill="none" stroke="#2a2a2a" stroke-width="1.6" stroke-linejoin="round"/>
<line x1="185.70" y1="296.70" x2="189.00" y2="296.70" stroke="#1e1e1e" stroke-width="1.1"/>
<text x="182.90" y="299.29" font-size="7.2" fill="#231f20" stroke="#231f20" stroke-width="0.18" text-anchor="end" textLength="4.20" lengthAdjust="spacingAndGlyphs">0</text>
<line x1="185.70" y1="271.50" x2="189.00" y2="271.50" stroke="#1e1e1e" stroke-width="1.1"/>
<text x="182.90" y="274.09" font-size="7.2" fill="#231f20" stroke="#231f20" stroke-width="0.18" text-anchor="end" textLength="12.70" lengthAdjust="spacingAndGlyphs">200</text>
<line x1="185.70" y1="246.30" x2="189.00" y2="246.30" stroke="#1e1e1e" stroke-width="1.1"/>
<text x="182.90" y="248.89" font-size="7.2" fill="#231f20" stroke="#231f20" stroke-width="0.18" text-anchor="end" textLength="12.70" lengthAdjust="spacingAndGlyphs">400</text>
<line x1="185.70" y1="221.10" x2="189.00" y2="221.10" stroke="#1e1e1e" stroke-width="1.1"/>
<text x="182.90" y="223.69" font-size="7.2" fill="#231f20" stroke="#231f20" stroke-width="0.18" text-anchor="end" textLength="12.70" lengthAdjust="spacingAndGlyphs">600</text>
<line x1="187.40" y1="290.40" x2="189.00" y2="290.40" stroke="#1e1e1e" stroke-width="0.9"/>
<line x1="187.40" y1="284.10" x2="189.00" y2="284.10" stroke="#1e1e1e" stroke-width="0.9"/>
<line x1="187.40" y1="277.80" x2="189.00" y2="277.80" stroke="#1e1e1e" stroke-width="0.9"/>
<line x1="187.40" y1="271.50" x2="189.00" y2="271.50" stroke="#1e1e1e" stroke-width="0.9"/>
<line x1="187.40" y1="265.20" x2="189.00" y2="265.20" stroke="#1e1e1e" stroke-width="0.9"/>
<line x1="187.40" y1="258.90" x2="189.00" y2="258.90" stroke="#1e1e1e" stroke-width="0.9"/>
<line x1="187.40" y1="252.60" x2="189.00" y2="252.60" stroke="#1e1e1e" stroke-width="0.9"/>
<line x1="187.40" y1="246.30" x2="189.00" y2="246.30" stroke="#1e1e1e" stroke-width="0.9"/>
<line x1="187.40" y1="240.00" x2="189.00" y2="240.00" stroke="#1e1e1e" stroke-width="0.9"/>
<line x1="187.40" y1="233.70" x2="189.00" y2="233.70" stroke="#1e1e1e" stroke-width="0.9"/>
<line x1="187.40" y1="227.40" x2="189.00" y2="227.40" stroke="#1e1e1e" stroke-width="0.9"/>
<line x1="187.40" y1="221.10" x2="189.00" y2="221.10" stroke="#1e1e1e" stroke-width="0.9"/>
<line x1="202.30" y1="296.90" x2="202.30" y2="298.60" stroke="#1e1e1e" stroke-width="0.8"/>
<line x1="204.30" y1="296.90" x2="204.30" y2="298.60" stroke="#1e1e1e" stroke-width="0.8"/>
<line x1="206.30" y1="296.90" x2="206.30" y2="298.60" stroke="#1e1e1e" stroke-width="0.8"/>
<line x1="208.30" y1="296.90" x2="208.30" y2="298.60" stroke="#1e1e1e" stroke-width="0.8"/>
<line x1="210.30" y1="296.90" x2="210.30" y2="298.60" stroke="#1e1e1e" stroke-width="0.8"/>
<line x1="212.00" y1="296.90" x2="212.00" y2="298.60" stroke="#1e1e1e" stroke-width="0.8"/>
<line x1="219.61" y1="296.90" x2="219.61" y2="298.60" stroke="#1e1e1e" stroke-width="0.8"/>
<line x1="223.19" y1="296.90" x2="223.19" y2="298.60" stroke="#1e1e1e" stroke-width="0.8"/>
<line x1="225.72" y1="296.90" x2="225.72" y2="298.60" stroke="#1e1e1e" stroke-width="0.8"/>
<line x1="227.69" y1="296.90" x2="227.69" y2="298.60" stroke="#1e1e1e" stroke-width="0.8"/>
<line x1="229.30" y1="296.90" x2="229.30" y2="298.60" stroke="#1e1e1e" stroke-width="0.8"/>
<line x1="230.66" y1="296.90" x2="230.66" y2="298.60" stroke="#1e1e1e" stroke-width="0.8"/>
<line x1="231.83" y1="296.90" x2="231.83" y2="298.60" stroke="#1e1e1e" stroke-width="0.8"/>
<line x1="232.87" y1="296.90" x2="232.87" y2="298.60" stroke="#1e1e1e" stroke-width="0.8"/>
<line x1="240.30" y1="296.90" x2="240.30" y2="298.60" stroke="#1e1e1e" stroke-width="0.8"/>
<line x1="244.11" y1="296.90" x2="244.11" y2="298.60" stroke="#1e1e1e" stroke-width="0.8"/>
<line x1="246.80" y1="296.90" x2="246.80" y2="298.60" stroke="#1e1e1e" stroke-width="0.8"/>
<line x1="248.90" y1="296.90" x2="248.90" y2="298.60" stroke="#1e1e1e" stroke-width="0.8"/>
<line x1="250.61" y1="296.90" x2="250.61" y2="298.60" stroke="#1e1e1e" stroke-width="0.8"/>
<line x1="252.05" y1="296.90" x2="252.05" y2="298.60" stroke="#1e1e1e" stroke-width="0.8"/>
<line x1="253.31" y1="296.90" x2="253.31" y2="298.60" stroke="#1e1e1e" stroke-width="0.8"/>
<line x1="254.41" y1="296.90" x2="254.41" y2="298.60" stroke="#1e1e1e" stroke-width="0.8"/>
<line x1="260.52" y1="296.90" x2="260.52" y2="298.60" stroke="#1e1e1e" stroke-width="0.8"/>
<line x1="263.51" y1="296.90" x2="263.51" y2="298.60" stroke="#1e1e1e" stroke-width="0.8"/>
<line x1="265.64" y1="296.90" x2="265.64" y2="298.60" stroke="#1e1e1e" stroke-width="0.8"/>
<line x1="267.28" y1="296.90" x2="267.28" y2="298.60" stroke="#1e1e1e" stroke-width="0.8"/>
<line x1="268.63" y1="296.90" x2="268.63" y2="298.60" stroke="#1e1e1e" stroke-width="0.8"/>
<line x1="269.77" y1="296.90" x2="269.77" y2="298.60" stroke="#1e1e1e" stroke-width="0.8"/>
<line x1="270.75" y1="296.90" x2="270.75" y2="298.60" stroke="#1e1e1e" stroke-width="0.8"/>
<line x1="271.62" y1="296.90" x2="271.62" y2="298.60" stroke="#1e1e1e" stroke-width="0.8"/>
<line x1="200.30" y1="296.90" x2="200.30" y2="299.90" stroke="#1e1e1e" stroke-width="1.0"/>
<line x1="213.50" y1="296.90" x2="213.50" y2="299.90" stroke="#1e1e1e" stroke-width="1.0"/>
<line x1="233.80" y1="296.90" x2="233.80" y2="299.90" stroke="#1e1e1e" stroke-width="1.0"/>
<line x1="255.40" y1="296.90" x2="255.40" y2="299.90" stroke="#1e1e1e" stroke-width="1.0"/>
<text x="200.10" y="310.09" font-size="7.2" fill="#231f20" stroke="#231f20" stroke-width="0.18" text-anchor="middle">0</text>
<text x="227.90" y="310.00" font-size="7.2" fill="#231f20" stroke="#231f20" stroke-width="0.18">10<tspan font-size="4.46" dy="-3.2">3</tspan></text>
<text x="250.80" y="310.00" font-size="7.2" fill="#231f20" stroke="#231f20" stroke-width="0.18">10<tspan font-size="4.46" dy="-3.2">4</tspan></text>
<text x="164.20" y="256.60" font-size="7.6" fill="#231f20" stroke="#231f20" stroke-width="0.45" text-anchor="middle" textLength="16.50" lengthAdjust="spacingAndGlyphs" transform="rotate(-90 164.20 256.60)">Count</text>
<text x="189.90" y="322.85" font-size="8.2" fill="#c43a60" stroke="#c43a60" stroke-width="0.4" textLength="39.00" lengthAdjust="spacingAndGlyphs">CD62P-AF647</text>
<line x1="232.20" y1="319.90" x2="268.20" y2="319.90" stroke="#111" stroke-width="0.9"/>
<path d="M271.70,319.90 L266.70,317.80 L266.70,322.00 Z" fill="#111"/>
<path d="M201.10,296.50 C201.73,296.00 203.23,294.50 204.90,293.50 C206.57,292.50 209.05,291.52 211.10,290.50 C213.15,289.48 215.67,288.05 217.20,287.40 C218.73,286.75 219.13,287.25 220.30,286.60 C221.47,285.95 222.92,285.17 224.20,283.50 C225.48,281.83 226.73,279.80 228.00,276.60 C229.27,273.40 230.38,268.15 231.80,264.30 C233.22,260.45 235.33,254.27 236.50,253.50 C237.67,252.73 238.03,257.38 238.80,259.70 C239.57,262.02 240.20,264.07 241.10,267.40 C242.00,270.73 243.05,275.60 244.20,279.70 C245.35,283.80 246.85,289.28 248.00,292.00 C249.15,294.72 250.27,295.25 251.10,296.00 C251.93,296.75 252.68,296.42 253.00,296.50" stroke="#d0284c" stroke-width="1.15" fill="none" stroke-linejoin="round"/>
<path d="M201.10,296.50 C201.73,295.75 203.23,293.78 204.90,292.00 C206.57,290.22 209.43,288.37 211.10,285.80 C212.77,283.23 213.75,279.28 214.90,276.60 C216.05,273.92 217.10,270.22 218.00,269.70 C218.90,269.18 219.53,272.22 220.30,273.50 C221.07,274.78 221.95,276.88 222.60,277.40 C223.25,277.92 223.30,277.25 224.20,276.60 C225.10,275.95 226.33,275.03 228.00,273.50 C229.67,271.97 232.67,267.78 234.20,267.40 C235.73,267.02 236.18,269.40 237.20,271.20 C238.22,273.00 239.27,275.50 240.30,278.20 C241.33,280.90 242.25,284.58 243.40,287.40 C244.55,290.22 246.18,293.58 247.20,295.10 C248.22,296.62 249.12,296.27 249.50,296.50" stroke="#28b0d2" stroke-width="1.15" fill="none" stroke-linejoin="round"/>
<path d="M201.10,296.50 C202.25,292.67 206.08,280.40 208.00,273.50 C209.92,266.60 211.32,260.60 212.60,255.10 C213.88,249.60 215.05,243.15 215.70,240.50 C216.35,237.85 215.98,236.77 216.50,239.20 C217.02,241.63 218.03,249.38 218.80,255.10 C219.57,260.82 220.33,268.88 221.10,273.50 C221.87,278.12 222.38,281.00 223.40,282.80 C224.42,284.60 225.92,283.53 227.20,284.30 C228.48,285.07 229.68,286.63 231.10,287.40 C232.52,288.17 234.42,288.13 235.70,288.90 C236.98,289.67 237.52,290.82 238.80,292.00 C240.08,293.18 242.37,295.25 243.40,296.00 C244.43,296.75 244.73,296.42 245.00,296.50" stroke="#3faa5e" stroke-width="1.15" fill="none" stroke-linejoin="round"/>
<path d="M201.10,296.50 C202.00,293.18 204.83,282.98 206.50,276.60 C208.17,270.22 209.82,263.58 211.10,258.20 C212.38,252.82 213.23,248.87 214.20,244.30 C215.17,239.73 216.13,231.05 216.90,230.80 C217.67,230.55 218.18,237.47 218.80,242.80 C219.42,248.13 219.97,255.88 220.60,262.80 C221.23,269.72 221.62,280.07 222.60,284.30 C223.58,288.53 225.35,287.30 226.50,288.20 C227.65,289.10 228.62,289.07 229.50,289.70 C230.38,290.33 231.02,290.95 231.80,292.00 C232.58,293.05 233.50,295.25 234.20,296.00 C234.90,296.75 235.70,296.42 236.00,296.50" stroke="#404444" stroke-width="1.15" fill="none" stroke-linejoin="round"/>
<line x1="282.00" y1="219.70" x2="286.10" y2="219.70" stroke="#333" stroke-width="1.2"/>
<text x="289.00" y="222.20" font-size="7" fill="#333" stroke="#333" stroke-width="0.18" textLength="29.60" lengthAdjust="spacingAndGlyphs">Untreated</text>
<line x1="282.00" y1="230.50" x2="286.10" y2="230.50" stroke="#d0284c" stroke-width="1.2"/>
<text x="289.00" y="233.00" font-size="7" fill="#333" stroke="#333" stroke-width="0.18" textLength="28.80" lengthAdjust="spacingAndGlyphs">Convulxin</text>
<line x1="282.00" y1="241.20" x2="286.10" y2="241.20" stroke="#28b0d2" stroke-width="1.2"/>
<text x="289.00" y="243.70" font-size="7" fill="#333" stroke="#333" stroke-width="0.18" textLength="46.70" lengthAdjust="spacingAndGlyphs">+A<tspan font-size="0.68em" dy="1.8">2A</tspan><tspan dy="-1.8">R-a</tspan> (1µM)</text>
<line x1="282.00" y1="251.00" x2="286.10" y2="251.00" stroke="#3faa5e" stroke-width="1.2"/>
<text x="289.00" y="253.50" font-size="7" fill="#333" stroke="#333" stroke-width="0.18" textLength="46.70" lengthAdjust="spacingAndGlyphs">+A<tspan font-size="0.68em" dy="1.8">2A</tspan><tspan dy="-1.8">R-a</tspan> (5µM)</text>
<text x="369.20" y="196.60" font-size="10.7" fill="#000" stroke="#000" stroke-width="0.2" font-weight="bold">F</text>
<line x1="406.00" y1="216.00" x2="406.00" y2="297.80" stroke="#3c3c3c" stroke-width="1.6"/>
<line x1="403.60" y1="297.00" x2="485.00" y2="297.00" stroke="#3c3c3c" stroke-width="1.6"/>
<line x1="403.00" y1="296.50" x2="406.00" y2="296.50" stroke="#3c3c3c" stroke-width="1.2"/>
<text x="400.50" y="299.16" font-size="7.4" fill="#231f20" stroke="#231f20" stroke-width="0.18" text-anchor="end">0</text>
<line x1="403.00" y1="271.50" x2="406.00" y2="271.50" stroke="#3c3c3c" stroke-width="1.2"/>
<text x="400.50" y="274.16" font-size="7.4" fill="#231f20" stroke="#231f20" stroke-width="0.18" text-anchor="end">2</text>
<line x1="403.00" y1="245.40" x2="406.00" y2="245.40" stroke="#3c3c3c" stroke-width="1.2"/>
<text x="400.50" y="248.06" font-size="7.4" fill="#231f20" stroke="#231f20" stroke-width="0.18" text-anchor="end">4</text>
<line x1="403.00" y1="219.50" x2="406.00" y2="219.50" stroke="#3c3c3c" stroke-width="1.2"/>
<text x="400.50" y="222.16" font-size="7.4" fill="#231f20" stroke="#231f20" stroke-width="0.18" text-anchor="end">6</text>
<rect x="412.40" y="284.30" width="12.00" height="12.70" fill="#9da8b1"/>
<rect x="430.40" y="231.00" width="12.00" height="66.00" fill="#e27c8e"/>
<rect x="448.90" y="260.80" width="12.00" height="36.20" fill="#8dcff0"/>
<rect x="466.90" y="273.50" width="12.00" height="23.50" fill="#8fd3a7"/>
<line x1="418.40" y1="297.80" x2="418.40" y2="300.60" stroke="#3c3c3c" stroke-width="1.2"/>
<line x1="436.40" y1="297.80" x2="436.40" y2="300.60" stroke="#3c3c3c" stroke-width="1.2"/>
<line x1="454.90" y1="297.80" x2="454.90" y2="300.60" stroke="#3c3c3c" stroke-width="1.2"/>
<line x1="472.90" y1="297.80" x2="472.90" y2="300.60" stroke="#3c3c3c" stroke-width="1.2"/>
<line x1="454.60" y1="246.90" x2="454.60" y2="260.80" stroke="#2f9fd3" stroke-width="1.0"/>
<line x1="472.60" y1="265.80" x2="472.60" y2="273.50" stroke="#449d62" stroke-width="1.0"/>
<circle cx="415.20" cy="284.30" r="2.35" stroke="#4a5560" stroke-width="1.0" fill="#fff"/>
<circle cx="418.50" cy="284.30" r="2.35" stroke="#4a5560" stroke-width="1.0" fill="#fff"/>
<circle cx="421.80" cy="284.30" r="2.35" stroke="#4a5560" stroke-width="1.0" fill="#fff"/>
<circle cx="432.60" cy="231.80" r="2.35" stroke="#ab2d4a" stroke-width="1.0" fill="#fff"/>
<circle cx="440.40" cy="232.20" r="2.35" stroke="#ab2d4a" stroke-width="1.0" fill="#fff"/>
<circle cx="436.50" cy="234.80" r="2.35" stroke="#ab2d4a" stroke-width="1.0" fill="#fff"/>
<circle cx="436.50" cy="241.30" r="2.35" stroke="#ab2d4a" stroke-width="1.0" fill="#fff"/>
<circle cx="454.60" cy="246.90" r="2.35" stroke="#2f9fd3" stroke-width="1.0" fill="#fff"/>
<circle cx="451.80" cy="260.30" r="2.35" stroke="#2f9fd3" stroke-width="1.0" fill="#fff"/>
<circle cx="458.10" cy="262.00" r="2.35" stroke="#2f9fd3" stroke-width="1.0" fill="#fff"/>
<circle cx="451.20" cy="265.40" r="2.35" stroke="#2f9fd3" stroke-width="1.0" fill="#fff"/>
<circle cx="472.60" cy="265.60" r="2.35" stroke="#449d62" stroke-width="1.0" fill="#fff"/>
<circle cx="469.10" cy="272.50" r="2.35" stroke="#449d62" stroke-width="1.0" fill="#fff"/>
<circle cx="476.70" cy="276.50" r="2.35" stroke="#449d62" stroke-width="1.0" fill="#fff"/>
<circle cx="468.90" cy="278.20" r="2.35" stroke="#449d62" stroke-width="1.0" fill="#fff"/>
<path d="M417.5,228.6 V222.8 H436.4 V228.2" stroke="#4a4a4a" stroke-width="1.2" fill="none"/>
<circle cx="423.38" cy="218.80" r="0.95" fill="#2a2a2a"/>
<circle cx="426.12" cy="218.80" r="0.95" fill="#2a2a2a"/>
<circle cx="428.88" cy="218.80" r="0.95" fill="#2a2a2a"/>
<circle cx="431.62" cy="218.80" r="0.95" fill="#2a2a2a"/>
<path d="M436.4,220.0 V215.4 H454.5 V240.3" stroke="#4a4a4a" stroke-width="1.2" fill="none"/>
<path d="M436.4,212.0 V207.1 H470.5 V240.9" stroke="#4a4a4a" stroke-width="1.2" fill="none"/>
<circle cx="442.75" cy="211.40" r="0.95" fill="#2a2a2a"/>
<circle cx="445.50" cy="211.40" r="0.95" fill="#2a2a2a"/>
<circle cx="448.25" cy="211.40" r="0.95" fill="#2a2a2a"/>
<circle cx="449.57" cy="202.80" r="0.95" fill="#2a2a2a"/>
<circle cx="452.32" cy="202.80" r="0.95" fill="#2a2a2a"/>
<circle cx="455.07" cy="202.80" r="0.95" fill="#2a2a2a"/>
<circle cx="457.82" cy="202.80" r="0.95" fill="#2a2a2a"/>
<text x="389.90" y="256.90" font-size="8.2" fill="#231f20" stroke="#231f20" stroke-width="0.45" text-anchor="middle" textLength="36.70" lengthAdjust="spacingAndGlyphs" transform="rotate(-90 389.90 256.90)">CD62P (fold)</text>
<text x="411.80" y="310.00" font-size="7" fill="#231f20" stroke="#231f20" stroke-width="0.18" text-anchor="end" textLength="31.70" lengthAdjust="spacingAndGlyphs">Convulxin</text>
<text x="411.80" y="321.30" font-size="7" fill="#231f20" stroke="#231f20" stroke-width="0.18" text-anchor="end" textLength="41.20" lengthAdjust="spacingAndGlyphs">A<tspan font-size="0.68em" dy="1.8">2A</tspan><tspan dy="-1.8">R-a</tspan> (µM)</text>
<line x1="416.80" y1="307.50" x2="420.60" y2="307.50" stroke="#231f20" stroke-width="0.9"/>
<line x1="416.80" y1="318.80" x2="420.60" y2="318.80" stroke="#231f20" stroke-width="0.9"/>
<line x1="434.60" y1="307.50" x2="438.80" y2="307.50" stroke="#231f20" stroke-width="0.9"/>
<line x1="436.70" y1="305.40" x2="436.70" y2="309.60" stroke="#231f20" stroke-width="0.9"/>
<line x1="434.80" y1="318.80" x2="438.60" y2="318.80" stroke="#231f20" stroke-width="0.9"/>
<line x1="452.40" y1="307.50" x2="456.60" y2="307.50" stroke="#231f20" stroke-width="0.9"/>
<line x1="454.50" y1="305.40" x2="454.50" y2="309.60" stroke="#231f20" stroke-width="0.9"/>
<text x="454.50" y="321.32" font-size="7" fill="#231f20" stroke="#231f20" stroke-width="0.18" text-anchor="middle">1</text>
<line x1="470.40" y1="307.50" x2="474.60" y2="307.50" stroke="#231f20" stroke-width="0.9"/>
<line x1="472.50" y1="305.40" x2="472.50" y2="309.60" stroke="#231f20" stroke-width="0.9"/>
<text x="472.50" y="321.32" font-size="7" fill="#231f20" stroke="#231f20" stroke-width="0.18" text-anchor="middle">5</text>
<text x="6.90" y="348.20" font-size="10.7" fill="#000" stroke="#000" stroke-width="0.2" font-weight="bold">G</text>
<rect x="42.80" y="350.30" width="86.40" height="81.10" fill="none" stroke="#2a2a2a" stroke-width="1.6" stroke-linejoin="round"/>
<line x1="39.50" y1="431.20" x2="42.80" y2="431.20" stroke="#1e1e1e" stroke-width="1.1"/>
<text x="36.70" y="433.79" font-size="7.2" fill="#231f20" stroke="#231f20" stroke-width="0.18" text-anchor="end" textLength="4.20" lengthAdjust="spacingAndGlyphs">0</text>
<line x1="39.50" y1="406.20" x2="42.80" y2="406.20" stroke="#1e1e1e" stroke-width="1.1"/>
<text x="36.70" y="408.79" font-size="7.2" fill="#231f20" stroke="#231f20" stroke-width="0.18" text-anchor="end" textLength="12.70" lengthAdjust="spacingAndGlyphs">200</text>
<line x1="39.50" y1="381.20" x2="42.80" y2="381.20" stroke="#1e1e1e" stroke-width="1.1"/>
<text x="36.70" y="383.79" font-size="7.2" fill="#231f20" stroke="#231f20" stroke-width="0.18" text-anchor="end" textLength="12.70" lengthAdjust="spacingAndGlyphs">400</text>
<line x1="39.50" y1="356.10" x2="42.80" y2="356.10" stroke="#1e1e1e" stroke-width="1.1"/>
<text x="36.70" y="358.69" font-size="7.2" fill="#231f20" stroke="#231f20" stroke-width="0.18" text-anchor="end" textLength="12.70" lengthAdjust="spacingAndGlyphs">600</text>
<line x1="41.20" y1="424.95" x2="42.80" y2="424.95" stroke="#1e1e1e" stroke-width="0.9"/>
<line x1="41.20" y1="418.70" x2="42.80" y2="418.70" stroke="#1e1e1e" stroke-width="0.9"/>
<line x1="41.20" y1="412.45" x2="42.80" y2="412.45" stroke="#1e1e1e" stroke-width="0.9"/>
<line x1="41.20" y1="406.20" x2="42.80" y2="406.20" stroke="#1e1e1e" stroke-width="0.9"/>
<line x1="41.20" y1="399.95" x2="42.80" y2="399.95" stroke="#1e1e1e" stroke-width="0.9"/>
<line x1="41.20" y1="393.70" x2="42.80" y2="393.70" stroke="#1e1e1e" stroke-width="0.9"/>
<line x1="41.20" y1="387.45" x2="42.80" y2="387.45" stroke="#1e1e1e" stroke-width="0.9"/>
<line x1="41.20" y1="381.20" x2="42.80" y2="381.20" stroke="#1e1e1e" stroke-width="0.9"/>
<line x1="41.20" y1="374.95" x2="42.80" y2="374.95" stroke="#1e1e1e" stroke-width="0.9"/>
<line x1="41.20" y1="368.70" x2="42.80" y2="368.70" stroke="#1e1e1e" stroke-width="0.9"/>
<line x1="41.20" y1="362.45" x2="42.80" y2="362.45" stroke="#1e1e1e" stroke-width="0.9"/>
<line x1="41.20" y1="356.20" x2="42.80" y2="356.20" stroke="#1e1e1e" stroke-width="0.9"/>
<line x1="56.60" y1="431.40" x2="56.60" y2="433.10" stroke="#1e1e1e" stroke-width="0.8"/>
<line x1="58.60" y1="431.40" x2="58.60" y2="433.10" stroke="#1e1e1e" stroke-width="0.8"/>
<line x1="60.60" y1="431.40" x2="60.60" y2="433.10" stroke="#1e1e1e" stroke-width="0.8"/>
<line x1="62.60" y1="431.40" x2="62.60" y2="433.10" stroke="#1e1e1e" stroke-width="0.8"/>
<line x1="64.60" y1="431.40" x2="64.60" y2="433.10" stroke="#1e1e1e" stroke-width="0.8"/>
<line x1="72.37" y1="431.40" x2="72.37" y2="433.10" stroke="#1e1e1e" stroke-width="0.8"/>
<line x1="75.80" y1="431.40" x2="75.80" y2="433.10" stroke="#1e1e1e" stroke-width="0.8"/>
<line x1="78.24" y1="431.40" x2="78.24" y2="433.10" stroke="#1e1e1e" stroke-width="0.8"/>
<line x1="80.13" y1="431.40" x2="80.13" y2="433.10" stroke="#1e1e1e" stroke-width="0.8"/>
<line x1="81.67" y1="431.40" x2="81.67" y2="433.10" stroke="#1e1e1e" stroke-width="0.8"/>
<line x1="82.98" y1="431.40" x2="82.98" y2="433.10" stroke="#1e1e1e" stroke-width="0.8"/>
<line x1="84.11" y1="431.40" x2="84.11" y2="433.10" stroke="#1e1e1e" stroke-width="0.8"/>
<line x1="85.11" y1="431.40" x2="85.11" y2="433.10" stroke="#1e1e1e" stroke-width="0.8"/>
<line x1="92.92" y1="431.40" x2="92.92" y2="433.10" stroke="#1e1e1e" stroke-width="0.8"/>
<line x1="96.97" y1="431.40" x2="96.97" y2="433.10" stroke="#1e1e1e" stroke-width="0.8"/>
<line x1="99.85" y1="431.40" x2="99.85" y2="433.10" stroke="#1e1e1e" stroke-width="0.8"/>
<line x1="102.08" y1="431.40" x2="102.08" y2="433.10" stroke="#1e1e1e" stroke-width="0.8"/>
<line x1="103.90" y1="431.40" x2="103.90" y2="433.10" stroke="#1e1e1e" stroke-width="0.8"/>
<line x1="105.44" y1="431.40" x2="105.44" y2="433.10" stroke="#1e1e1e" stroke-width="0.8"/>
<line x1="106.77" y1="431.40" x2="106.77" y2="433.10" stroke="#1e1e1e" stroke-width="0.8"/>
<line x1="107.95" y1="431.40" x2="107.95" y2="433.10" stroke="#1e1e1e" stroke-width="0.8"/>
<line x1="114.12" y1="431.40" x2="114.12" y2="433.10" stroke="#1e1e1e" stroke-width="0.8"/>
<line x1="117.11" y1="431.40" x2="117.11" y2="433.10" stroke="#1e1e1e" stroke-width="0.8"/>
<line x1="119.24" y1="431.40" x2="119.24" y2="433.10" stroke="#1e1e1e" stroke-width="0.8"/>
<line x1="120.88" y1="431.40" x2="120.88" y2="433.10" stroke="#1e1e1e" stroke-width="0.8"/>
<line x1="122.23" y1="431.40" x2="122.23" y2="433.10" stroke="#1e1e1e" stroke-width="0.8"/>
<line x1="123.37" y1="431.40" x2="123.37" y2="433.10" stroke="#1e1e1e" stroke-width="0.8"/>
<line x1="124.35" y1="431.40" x2="124.35" y2="433.10" stroke="#1e1e1e" stroke-width="0.8"/>
<line x1="125.22" y1="431.40" x2="125.22" y2="433.10" stroke="#1e1e1e" stroke-width="0.8"/>
<line x1="54.60" y1="431.40" x2="54.60" y2="434.40" stroke="#1e1e1e" stroke-width="1.0"/>
<line x1="66.50" y1="431.40" x2="66.50" y2="434.40" stroke="#1e1e1e" stroke-width="1.0"/>
<line x1="86.00" y1="431.40" x2="86.00" y2="434.40" stroke="#1e1e1e" stroke-width="1.0"/>
<line x1="109.00" y1="431.40" x2="109.00" y2="434.40" stroke="#1e1e1e" stroke-width="1.0"/>
<text x="54.50" y="444.59" font-size="7.2" fill="#231f20" stroke="#231f20" stroke-width="0.18" text-anchor="middle">0</text>
<text x="81.30" y="444.50" font-size="7.2" fill="#231f20" stroke="#231f20" stroke-width="0.18">10<tspan font-size="4.46" dy="-3.2">3</tspan></text>
<text x="104.40" y="444.50" font-size="7.2" fill="#231f20" stroke="#231f20" stroke-width="0.18">10<tspan font-size="4.46" dy="-3.2">4</tspan></text>
<text x="17.40" y="391.00" font-size="7.6" fill="#231f20" stroke="#231f20" stroke-width="0.45" text-anchor="middle" textLength="16.50" lengthAdjust="spacingAndGlyphs" transform="rotate(-90 17.40 391.00)">Count</text>
<text x="50.60" y="457.25" font-size="8.2" fill="#c43a60" stroke="#c43a60" stroke-width="0.4" textLength="38.40" lengthAdjust="spacingAndGlyphs">CD62P-AF647</text>
<line x1="92.30" y1="454.30" x2="124.00" y2="454.30" stroke="#111" stroke-width="0.9"/>
<path d="M127.50,454.30 L122.50,452.20 L122.50,456.40 Z" fill="#111"/>
<path d="M54.60,431.10 C55.50,430.50 58.33,428.35 60.00,427.50 C61.67,426.65 63.07,427.28 64.60,426.00 C66.13,424.72 67.78,422.23 69.20,419.80 C70.62,417.37 71.82,413.18 73.10,411.40 C74.38,409.62 75.62,410.52 76.90,409.10 C78.18,407.68 79.52,404.95 80.80,402.90 C82.08,400.85 83.58,398.33 84.60,396.80 C85.62,395.27 86.25,394.47 86.90,393.70 C87.55,392.93 87.85,391.68 88.50,392.20 C89.15,392.72 90.03,394.25 90.80,396.80 C91.57,399.35 92.08,403.67 93.10,407.50 C94.12,411.33 95.62,416.20 96.90,419.80 C98.18,423.40 99.77,427.22 100.80,429.10 C101.83,430.98 102.72,430.77 103.10,431.10" stroke="#d0284c" stroke-width="1.15" fill="none" stroke-linejoin="round"/>
<path d="M54.60,431.10 C55.67,427.50 59.27,415.65 61.00,409.50 C62.73,403.35 63.80,399.15 65.00,394.20 C66.20,389.25 67.40,383.78 68.20,379.80 C69.00,375.82 69.37,372.18 69.80,370.30 C70.23,368.42 70.38,368.20 70.80,368.50 C71.22,368.80 71.80,367.65 72.30,372.10 C72.80,376.55 73.15,387.77 73.80,395.20 C74.45,402.63 75.30,412.10 76.20,416.70 C77.10,421.30 78.05,421.17 79.20,422.80 C80.35,424.43 81.68,425.38 83.10,426.50 C84.52,427.62 86.38,428.77 87.70,429.50 C89.02,430.23 90.12,430.63 91.00,430.90 C91.88,431.17 92.67,431.07 93.00,431.10" stroke="#2fa070" stroke-width="1.15" fill="none" stroke-linejoin="round"/>
<path d="M54.60,431.10 C55.75,427.17 59.70,413.98 61.50,407.50 C63.30,401.02 64.23,397.32 65.40,392.20 C66.57,387.08 67.73,380.78 68.50,376.80 C69.27,372.82 69.62,370.10 70.00,368.30 C70.38,366.50 70.42,365.87 70.80,366.00 C71.18,366.13 71.80,364.73 72.30,369.10 C72.80,373.47 73.15,384.77 73.80,392.20 C74.45,399.63 75.30,409.10 76.20,413.70 C77.10,418.30 78.05,418.00 79.20,419.80 C80.35,421.60 81.68,423.22 83.10,424.50 C84.52,425.78 86.03,426.48 87.70,427.50 C89.37,428.52 91.88,430.00 93.10,430.60 C94.32,431.20 94.68,431.02 95.00,431.10" stroke="#26b6d0" stroke-width="1.15" fill="none" stroke-linejoin="round"/>
<path d="M54.60,431.10 C55.50,427.17 58.33,414.50 60.00,407.50 C61.67,400.50 63.32,395.25 64.60,389.10 C65.88,382.95 66.93,374.70 67.70,370.60 C68.47,366.50 68.77,366.80 69.20,364.50 C69.63,362.20 69.92,357.07 70.30,356.80 C70.68,356.53 71.03,358.28 71.50,362.90 C71.97,367.52 72.58,377.07 73.10,384.50 C73.62,391.93 74.08,401.62 74.60,407.50 C75.12,413.38 75.55,416.47 76.20,419.80 C76.85,423.13 77.73,425.70 78.50,427.50 C79.27,429.30 80.22,430.00 80.80,430.60 C81.38,431.20 81.80,431.02 82.00,431.10" stroke="#2a4a4c" stroke-width="1.15" fill="none" stroke-linejoin="round"/>
<line x1="136.20" y1="354.40" x2="140.30" y2="354.40" stroke="#333" stroke-width="1.2"/>
<text x="143.50" y="356.90" font-size="7" fill="#333" stroke="#333" stroke-width="0.18" textLength="29.70" lengthAdjust="spacingAndGlyphs">Untreated</text>
<line x1="136.20" y1="365.10" x2="140.30" y2="365.10" stroke="#d0284c" stroke-width="1.2"/>
<text x="143.50" y="367.60" font-size="7" fill="#333" stroke="#333" stroke-width="0.18" textLength="25.50" lengthAdjust="spacingAndGlyphs">U46619</text>
<line x1="136.20" y1="376.50" x2="140.30" y2="376.50" stroke="#26b6d0" stroke-width="1.2"/>
<text x="143.50" y="379.00" font-size="7" fill="#333" stroke="#333" stroke-width="0.18" textLength="46.70" lengthAdjust="spacingAndGlyphs">+A<tspan font-size="0.68em" dy="1.8">2A</tspan><tspan dy="-1.8">R-a</tspan> (1µM)</text>
<line x1="136.20" y1="386.90" x2="140.30" y2="386.90" stroke="#2fa070" stroke-width="1.2"/>
<text x="143.50" y="389.40" font-size="7" fill="#333" stroke="#333" stroke-width="0.18" textLength="46.70" lengthAdjust="spacingAndGlyphs">+A<tspan font-size="0.68em" dy="1.8">2A</tspan><tspan dy="-1.8">R-a</tspan> (5µM)</text>
<text x="7.00" y="484.50" font-size="10.7" fill="#000" stroke="#000" stroke-width="0.2" font-weight="bold">H</text>
<line x1="43.20" y1="493.00" x2="43.20" y2="583.30" stroke="#3c3c3c" stroke-width="1.6"/>
<line x1="40.80" y1="582.50" x2="130.00" y2="582.50" stroke="#3c3c3c" stroke-width="1.6"/>
<line x1="40.20" y1="582.50" x2="43.20" y2="582.50" stroke="#3c3c3c" stroke-width="1.2"/>
<text x="37.10" y="585.16" font-size="7.4" fill="#231f20" stroke="#231f20" stroke-width="0.18" text-anchor="end">0</text>
<line x1="40.20" y1="561.00" x2="43.20" y2="561.00" stroke="#3c3c3c" stroke-width="1.2"/>
<text x="37.10" y="563.66" font-size="7.4" fill="#231f20" stroke="#231f20" stroke-width="0.18" text-anchor="end">2</text>
<line x1="40.20" y1="539.40" x2="43.20" y2="539.40" stroke="#3c3c3c" stroke-width="1.2"/>
<text x="37.10" y="542.06" font-size="7.4" fill="#231f20" stroke="#231f20" stroke-width="0.18" text-anchor="end">4</text>
<line x1="40.20" y1="517.90" x2="43.20" y2="517.90" stroke="#3c3c3c" stroke-width="1.2"/>
<text x="37.10" y="520.56" font-size="7.4" fill="#231f20" stroke="#231f20" stroke-width="0.18" text-anchor="end">6</text>
<line x1="40.20" y1="495.50" x2="43.20" y2="495.50" stroke="#3c3c3c" stroke-width="1.2"/>
<text x="37.10" y="498.16" font-size="7.4" fill="#231f20" stroke="#231f20" stroke-width="0.18" text-anchor="end">8</text>
<rect x="49.90" y="572.50" width="13.00" height="10.00" fill="#9da8b1"/>
<rect x="69.70" y="528.00" width="13.00" height="54.50" fill="#e27c8e"/>
<rect x="89.95" y="564.60" width="13.00" height="17.90" fill="#8dcff0"/>
<rect x="110.05" y="567.00" width="13.00" height="15.50" fill="#8fd3a7"/>
<line x1="56.50" y1="583.30" x2="56.50" y2="586.10" stroke="#3c3c3c" stroke-width="1.2"/>
<line x1="76.50" y1="583.30" x2="76.50" y2="586.10" stroke="#3c3c3c" stroke-width="1.2"/>
<line x1="96.50" y1="583.30" x2="96.50" y2="586.10" stroke="#3c3c3c" stroke-width="1.2"/>
<line x1="116.50" y1="583.30" x2="116.50" y2="586.10" stroke="#3c3c3c" stroke-width="1.2"/>
<line x1="76.30" y1="517.00" x2="76.30" y2="528.00" stroke="#ab2d4a" stroke-width="1.0"/>
<line x1="96.20" y1="555.80" x2="96.20" y2="564.60" stroke="#2f9fd3" stroke-width="1.0"/>
<circle cx="52.60" cy="572.00" r="2.35" stroke="#4a5560" stroke-width="1.0" fill="#fff"/>
<circle cx="56.30" cy="572.00" r="2.35" stroke="#4a5560" stroke-width="1.0" fill="#fff"/>
<circle cx="60.30" cy="572.00" r="2.35" stroke="#4a5560" stroke-width="1.0" fill="#fff"/>
<circle cx="76.30" cy="517.00" r="2.35" stroke="#ab2d4a" stroke-width="1.0" fill="#fff"/>
<circle cx="76.30" cy="525.30" r="2.35" stroke="#ab2d4a" stroke-width="1.0" fill="#fff"/>
<circle cx="76.30" cy="532.10" r="2.35" stroke="#ab2d4a" stroke-width="1.0" fill="#fff"/>
<circle cx="76.30" cy="540.30" r="2.35" stroke="#ab2d4a" stroke-width="1.0" fill="#fff"/>
<circle cx="96.20" cy="555.80" r="2.35" stroke="#2f9fd3" stroke-width="1.0" fill="#fff"/>
<circle cx="92.10" cy="565.30" r="2.35" stroke="#2f9fd3" stroke-width="1.0" fill="#fff"/>
<circle cx="96.20" cy="563.50" r="2.35" stroke="#2f9fd3" stroke-width="1.0" fill="#fff"/>
<circle cx="100.50" cy="564.20" r="2.35" stroke="#2f9fd3" stroke-width="1.0" fill="#fff"/>
<circle cx="112.00" cy="565.40" r="2.35" stroke="#449d62" stroke-width="1.0" fill="#fff"/>
<circle cx="120.30" cy="563.10" r="2.35" stroke="#449d62" stroke-width="1.0" fill="#fff"/>
<circle cx="116.60" cy="566.90" r="2.35" stroke="#449d62" stroke-width="1.0" fill="#fff"/>
<circle cx="120.00" cy="570.30" r="2.35" stroke="#449d62" stroke-width="1.0" fill="#fff"/>
<circle cx="112.30" cy="572.30" r="2.35" stroke="#449d62" stroke-width="1.0" fill="#fff"/>
<path d="M56.5,510.8 V504.9 H76.4 V510.0" stroke="#4a4a4a" stroke-width="1.2" fill="none"/>
<circle cx="62.08" cy="500.80" r="0.95" fill="#2a2a2a"/>
<circle cx="64.83" cy="500.80" r="0.95" fill="#2a2a2a"/>
<circle cx="67.58" cy="500.80" r="0.95" fill="#2a2a2a"/>
<circle cx="70.33" cy="500.80" r="0.95" fill="#2a2a2a"/>
<path d="M76.3,499.7 V493.5 H107.7 V546.2" stroke="#4a4a4a" stroke-width="1.2" fill="none"/>
<path d="M89.2,546.2 H123.7" stroke="#4a4a4a" stroke-width="1.2" fill="none"/>
<circle cx="87.67" cy="489.50" r="0.95" fill="#2a2a2a"/>
<circle cx="90.42" cy="489.50" r="0.95" fill="#2a2a2a"/>
<circle cx="93.17" cy="489.50" r="0.95" fill="#2a2a2a"/>
<circle cx="95.92" cy="489.50" r="0.95" fill="#2a2a2a"/>
<text x="26.70" y="537.50" font-size="8.2" fill="#231f20" stroke="#231f20" stroke-width="0.45" text-anchor="middle" textLength="35.40" lengthAdjust="spacingAndGlyphs" transform="rotate(-90 26.70 537.50)">CD62P (fold)</text>
<text x="49.10" y="594.80" font-size="7" fill="#231f20" stroke="#231f20" stroke-width="0.18" text-anchor="end" textLength="27.40" lengthAdjust="spacingAndGlyphs">U46619</text>
<text x="49.40" y="606.90" font-size="7" fill="#231f20" stroke="#231f20" stroke-width="0.18" text-anchor="end" textLength="40.40" lengthAdjust="spacingAndGlyphs">A<tspan font-size="0.68em" dy="1.8">2A</tspan><tspan dy="-1.8">R-a</tspan> (µM)</text>
<line x1="54.40" y1="593.30" x2="58.20" y2="593.30" stroke="#231f20" stroke-width="0.9"/>
<line x1="54.40" y1="604.30" x2="58.20" y2="604.30" stroke="#231f20" stroke-width="0.9"/>
<line x1="74.40" y1="593.30" x2="78.60" y2="593.30" stroke="#231f20" stroke-width="0.9"/>
<line x1="76.50" y1="591.20" x2="76.50" y2="595.40" stroke="#231f20" stroke-width="0.9"/>
<line x1="74.60" y1="604.30" x2="78.40" y2="604.30" stroke="#231f20" stroke-width="0.9"/>
<line x1="94.30" y1="593.30" x2="98.50" y2="593.30" stroke="#231f20" stroke-width="0.9"/>
<line x1="96.40" y1="591.20" x2="96.40" y2="595.40" stroke="#231f20" stroke-width="0.9"/>
<text x="96.40" y="606.82" font-size="7" fill="#231f20" stroke="#231f20" stroke-width="0.18" text-anchor="middle">1</text>
<line x1="114.30" y1="593.30" x2="118.50" y2="593.30" stroke="#231f20" stroke-width="0.9"/>
<line x1="116.40" y1="591.20" x2="116.40" y2="595.40" stroke="#231f20" stroke-width="0.9"/>
<text x="116.40" y="606.82" font-size="7" fill="#231f20" stroke="#231f20" stroke-width="0.18" text-anchor="middle">5</text>
<text x="205.20" y="347.40" font-size="10.7" fill="#000" stroke="#000" stroke-width="0.2" font-weight="bold">I</text>
<text x="207.10" y="371.40" font-size="7" fill="#231f20" stroke="#231f20" stroke-width="0.18" textLength="40.40" lengthAdjust="spacingAndGlyphs">A<tspan font-size="0.68em" dy="1.8">2A</tspan><tspan dy="-1.8">R-a</tspan> (µM)</text>
<text x="255.30" y="371.72" font-size="7" fill="#231f20" stroke="#231f20" stroke-width="0.18" text-anchor="middle">0</text>
<text x="274.50" y="371.72" font-size="7" fill="#231f20" stroke="#231f20" stroke-width="0.18" text-anchor="middle">0</text>
<text x="292.00" y="371.72" font-size="7" fill="#231f20" stroke="#231f20" stroke-width="0.18" text-anchor="middle">1</text>
<text x="311.00" y="371.72" font-size="7" fill="#231f20" stroke="#231f20" stroke-width="0.18" text-anchor="middle">5</text>
<text x="337.00" y="371.72" font-size="7" fill="#231f20" stroke="#231f20" stroke-width="0.18" text-anchor="middle">0</text>
<text x="354.60" y="371.72" font-size="7" fill="#231f20" stroke="#231f20" stroke-width="0.18" text-anchor="middle">0</text>
<text x="374.20" y="371.72" font-size="7" fill="#231f20" stroke="#231f20" stroke-width="0.18" text-anchor="middle">1</text>
<text x="391.00" y="371.72" font-size="7" fill="#231f20" stroke="#231f20" stroke-width="0.18" text-anchor="middle">5</text>
<text x="415.20" y="371.72" font-size="7" fill="#231f20" stroke="#231f20" stroke-width="0.18" text-anchor="middle">0</text>
<text x="432.00" y="371.72" font-size="7" fill="#231f20" stroke="#231f20" stroke-width="0.18" text-anchor="middle">0</text>
<text x="450.70" y="371.72" font-size="7" fill="#231f20" stroke="#231f20" stroke-width="0.18" text-anchor="middle">1</text>
<text x="469.20" y="371.72" font-size="7" fill="#231f20" stroke="#231f20" stroke-width="0.18" text-anchor="middle">5</text>
<line x1="266.80" y1="362.00" x2="321.70" y2="362.00" stroke="#555" stroke-width="1.0"/>
<text x="279.40" y="357.10" font-size="7" fill="#231f20" stroke="#231f20" stroke-width="0.18" textLength="30.60" lengthAdjust="spacingAndGlyphs">Thrombin</text>
<line x1="346.30" y1="362.00" x2="399.20" y2="362.00" stroke="#555" stroke-width="1.0"/>
<text x="356.90" y="357.10" font-size="7" fill="#231f20" stroke="#231f20" stroke-width="0.18" textLength="31.40" lengthAdjust="spacingAndGlyphs">Convulxin</text>
<line x1="425.10" y1="362.00" x2="480.00" y2="362.00" stroke="#555" stroke-width="1.0"/>
<text x="438.40" y="357.10" font-size="7" fill="#231f20" stroke="#231f20" stroke-width="0.18" textLength="27.90" lengthAdjust="spacingAndGlyphs">U46619</text>
<rect x="225.30" y="376.50" width="97.90" height="89.30" fill="#030404"/>
<rect x="325.20" y="376.50" width="77.80" height="89.30" fill="#030404"/>
<rect x="404.90" y="376.50" width="76.00" height="89.30" fill="#030404"/>
<rect x="225.30" y="468.10" width="97.90" height="40.40" fill="#030404"/>
<rect x="325.20" y="468.10" width="77.80" height="40.40" fill="#030404"/>
<rect x="404.90" y="468.10" width="76.00" height="40.40" fill="#030404"/>
<rect x="225.30" y="511.00" width="97.90" height="31.90" fill="#030404"/>
<rect x="325.20" y="511.00" width="77.80" height="31.90" fill="#030404"/>
<rect x="404.90" y="511.00" width="76.00" height="31.90" fill="#030404"/>
<rect x="225.30" y="545.30" width="97.90" height="26.60" fill="#030404"/>
<rect x="325.20" y="545.30" width="77.80" height="26.60" fill="#030404"/>
<rect x="404.90" y="545.30" width="76.00" height="26.60" fill="#030404"/>
<rect x="228.40" y="380.40" width="14.90" height="4.20" fill="#901830" opacity="0.105" filter="url(#bl2)"/>
<rect x="229.40" y="381.60" width="12.90" height="1.80" rx="0.90" fill="#901830" opacity="0.300" filter="url(#bl)"/>
<rect x="228.40" y="391.10" width="14.90" height="4.40" fill="#f2302c" opacity="0.227" filter="url(#bl2)"/>
<rect x="229.40" y="392.30" width="12.90" height="2.00" rx="1.00" fill="#f2302c" opacity="0.650" filter="url(#bl)"/>
<rect x="228.40" y="397.00" width="14.90" height="5.80" fill="#f6e436" opacity="0.350" filter="url(#bl2)"/>
<rect x="229.40" y="398.20" width="12.90" height="3.40" rx="1.70" fill="#f6e436" opacity="1.000" filter="url(#bl)"/>
<rect x="228.40" y="411.50" width="14.90" height="5.60" fill="#f2302c" opacity="0.332" filter="url(#bl2)"/>
<rect x="229.40" y="412.70" width="12.90" height="3.20" rx="1.60" fill="#f2302c" opacity="0.950" filter="url(#bl)"/>
<rect x="228.40" y="421.20" width="14.90" height="5.60" fill="#f2302c" opacity="0.332" filter="url(#bl2)"/>
<rect x="229.40" y="422.40" width="12.90" height="3.20" rx="1.60" fill="#f2302c" opacity="0.950" filter="url(#bl)"/>
<rect x="228.40" y="433.70" width="14.90" height="6.00" fill="#f6b824" opacity="0.350" filter="url(#bl2)"/>
<rect x="229.40" y="434.90" width="12.90" height="3.60" rx="1.80" fill="#f6b824" opacity="1.000" filter="url(#bl)"/>
<rect x="228.40" y="441.10" width="14.90" height="5.20" fill="#f2302c" opacity="0.315" filter="url(#bl2)"/>
<rect x="229.40" y="442.30" width="12.90" height="2.80" rx="1.40" fill="#f2302c" opacity="0.900" filter="url(#bl)"/>
<rect x="228.40" y="450.90" width="14.90" height="5.60" fill="#f2302c" opacity="0.315" filter="url(#bl2)"/>
<rect x="229.40" y="452.10" width="12.90" height="3.20" rx="1.60" fill="#f2302c" opacity="0.900" filter="url(#bl)"/>
<rect x="228.40" y="460.10" width="14.90" height="4.60" fill="#c02030" opacity="0.245" filter="url(#bl2)"/>
<rect x="229.40" y="461.30" width="12.90" height="2.20" rx="1.10" fill="#c02030" opacity="0.700" filter="url(#bl)"/>
<rect x="246.00" y="423.25" width="14.80" height="2.50" rx="0.60" fill="#f2302c" opacity="0.950" filter="url(#bl)"/>
<rect x="265.50" y="423.25" width="13.90" height="2.50" rx="0.60" fill="#f2302c" opacity="0.950" filter="url(#bl)"/>
<rect x="284.30" y="423.25" width="14.70" height="2.50" rx="0.60" fill="#f2302c" opacity="0.950" filter="url(#bl)"/>
<rect x="304.30" y="423.25" width="15.30" height="2.50" rx="0.60" fill="#f2302c" opacity="0.950" filter="url(#bl)"/>
<rect x="329.00" y="422.05" width="14.00" height="2.50" rx="0.60" fill="#f2302c" opacity="0.950" filter="url(#bl)"/>
<rect x="348.20" y="422.05" width="13.80" height="2.50" rx="0.60" fill="#f2302c" opacity="0.950" filter="url(#bl)"/>
<rect x="367.80" y="422.05" width="13.20" height="2.50" rx="0.60" fill="#f2302c" opacity="0.950" filter="url(#bl)"/>
<rect x="385.50" y="422.05" width="14.00" height="2.50" rx="0.60" fill="#f2302c" opacity="0.950" filter="url(#bl)"/>
<rect x="407.50" y="421.75" width="14.30" height="2.50" rx="0.60" fill="#f2302c" opacity="0.950" filter="url(#bl)"/>
<rect x="426.30" y="421.75" width="14.30" height="2.50" rx="0.60" fill="#f2302c" opacity="0.950" filter="url(#bl)"/>
<rect x="444.10" y="421.75" width="13.50" height="2.50" rx="0.60" fill="#f2302c" opacity="0.950" filter="url(#bl)"/>
<rect x="462.00" y="421.75" width="14.00" height="2.50" rx="0.60" fill="#f2302c" opacity="0.950" filter="url(#bl)"/>
<rect x="264.50" y="405.80" width="15.90" height="5.00" fill="#52cc56" opacity="0.188" filter="url(#bl2)"/>
<rect x="265.50" y="407.00" width="13.90" height="2.60" rx="0.60" fill="#52cc56" opacity="0.750" filter="url(#bl)"/>
<rect x="283.30" y="405.80" width="16.70" height="5.00" fill="#52cc56" opacity="0.175" filter="url(#bl2)"/>
<rect x="284.30" y="407.00" width="14.70" height="2.60" rx="0.60" fill="#52cc56" opacity="0.700" filter="url(#bl)"/>
<rect x="303.30" y="405.80" width="17.30" height="5.00" fill="#52cc56" opacity="0.025" filter="url(#bl2)"/>
<rect x="304.30" y="407.00" width="15.30" height="2.60" rx="0.60" fill="#52cc56" opacity="0.100" filter="url(#bl)"/>
<rect x="328.00" y="404.50" width="16.00" height="5.00" fill="#52cc56" opacity="0.015" filter="url(#bl2)"/>
<rect x="329.00" y="405.70" width="14.00" height="2.60" rx="0.60" fill="#52cc56" opacity="0.060" filter="url(#bl)"/>
<rect x="347.20" y="404.50" width="15.80" height="5.00" fill="#52cc56" opacity="0.237" filter="url(#bl2)"/>
<rect x="348.20" y="405.70" width="13.80" height="2.60" rx="0.60" fill="#52cc56" opacity="0.950" filter="url(#bl)"/>
<rect x="366.80" y="404.50" width="15.20" height="5.00" fill="#52cc56" opacity="0.175" filter="url(#bl2)"/>
<rect x="367.80" y="405.70" width="13.20" height="2.60" rx="0.60" fill="#52cc56" opacity="0.700" filter="url(#bl)"/>
<rect x="384.50" y="404.50" width="16.00" height="5.00" fill="#52cc56" opacity="0.025" filter="url(#bl2)"/>
<rect x="385.50" y="405.70" width="14.00" height="2.60" rx="0.60" fill="#52cc56" opacity="0.100" filter="url(#bl)"/>
<rect x="406.50" y="400.90" width="16.30" height="5.80" fill="#52cc56" opacity="0.013" filter="url(#bl2)"/>
<rect x="407.50" y="402.10" width="14.30" height="3.40" rx="0.60" fill="#52cc56" opacity="0.050" filter="url(#bl)"/>
<rect x="425.30" y="400.90" width="16.30" height="5.80" fill="#52cc56" opacity="0.250" filter="url(#bl2)"/>
<rect x="426.30" y="402.10" width="14.30" height="3.40" rx="0.60" fill="#52cc56" opacity="1.000" filter="url(#bl)"/>
<rect x="443.10" y="400.90" width="15.50" height="5.80" fill="#52cc56" opacity="0.030" filter="url(#bl2)"/>
<rect x="444.10" y="402.10" width="13.50" height="3.40" rx="0.60" fill="#52cc56" opacity="0.120" filter="url(#bl)"/>
<rect x="461.00" y="400.90" width="16.00" height="5.80" fill="#52cc56" opacity="0.013" filter="url(#bl2)"/>
<rect x="462.00" y="402.10" width="14.00" height="3.40" rx="0.60" fill="#52cc56" opacity="0.050" filter="url(#bl)"/>
<rect x="228.40" y="468.90" width="14.90" height="5.00" fill="#f2302c" opacity="0.315" filter="url(#bl2)"/>
<rect x="229.40" y="470.10" width="12.90" height="2.60" rx="1.30" fill="#f2302c" opacity="0.900" filter="url(#bl)"/>
<rect x="228.40" y="484.30" width="14.90" height="5.80" fill="#f2302c" opacity="0.315" filter="url(#bl2)"/>
<rect x="229.40" y="485.50" width="12.90" height="3.40" rx="1.70" fill="#f2302c" opacity="0.900" filter="url(#bl)"/>
<rect x="228.40" y="495.00" width="14.90" height="5.60" fill="#f2302c" opacity="0.315" filter="url(#bl2)"/>
<rect x="229.40" y="496.20" width="12.90" height="3.20" rx="1.60" fill="#f2302c" opacity="0.900" filter="url(#bl)"/>
<rect x="246.00" y="478.86" width="14.80" height="5.04" rx="0.5" fill="url(#gg)" opacity="0.900" filter="url(#bl)"/>
<rect x="246.00" y="497.55" width="14.80" height="2.30" rx="0.60" fill="#f2302c" opacity="0.950" filter="url(#bl)"/>
<rect x="265.50" y="478.86" width="13.90" height="5.04" rx="0.5" fill="url(#gg)" opacity="0.900" filter="url(#bl)"/>
<rect x="265.50" y="497.55" width="13.90" height="2.30" rx="0.60" fill="#f2302c" opacity="0.950" filter="url(#bl)"/>
<rect x="284.30" y="478.86" width="14.70" height="5.04" rx="0.5" fill="url(#gg)" opacity="0.900" filter="url(#bl)"/>
<rect x="284.30" y="497.55" width="14.70" height="2.30" rx="0.60" fill="#f2302c" opacity="0.950" filter="url(#bl)"/>
<rect x="304.30" y="478.86" width="15.30" height="5.04" rx="0.5" fill="url(#gg)" opacity="0.900" filter="url(#bl)"/>
<rect x="304.30" y="496.95" width="15.30" height="2.30" rx="0.60" fill="#f2302c" opacity="0.950" filter="url(#bl)"/>
<rect x="329.00" y="477.84" width="14.00" height="5.76" rx="0.5" fill="url(#gg)" opacity="0.900" filter="url(#bl)"/>
<rect x="329.00" y="497.25" width="14.00" height="2.30" rx="0.60" fill="#f2302c" opacity="0.950" filter="url(#bl)"/>
<rect x="348.20" y="477.84" width="13.80" height="5.76" rx="0.5" fill="url(#gg)" opacity="0.900" filter="url(#bl)"/>
<rect x="348.20" y="497.25" width="13.80" height="2.30" rx="0.60" fill="#f2302c" opacity="0.950" filter="url(#bl)"/>
<rect x="367.80" y="477.84" width="13.20" height="5.76" rx="0.5" fill="url(#gg)" opacity="0.900" filter="url(#bl)"/>
<rect x="367.80" y="497.25" width="13.20" height="2.30" rx="0.60" fill="#f2302c" opacity="0.950" filter="url(#bl)"/>
<rect x="385.50" y="477.84" width="14.00" height="5.76" rx="0.5" fill="url(#gg)" opacity="0.900" filter="url(#bl)"/>
<rect x="385.50" y="496.65" width="14.00" height="2.30" rx="0.60" fill="#f2302c" opacity="0.950" filter="url(#bl)"/>
<rect x="407.50" y="479.64" width="14.30" height="5.76" rx="0.5" fill="url(#gg)" opacity="0.900" filter="url(#bl)"/>
<rect x="407.50" y="496.15" width="14.30" height="2.30" rx="0.60" fill="#f2302c" opacity="0.950" filter="url(#bl)"/>
<rect x="426.30" y="479.64" width="14.30" height="5.76" rx="0.5" fill="url(#gg)" opacity="0.900" filter="url(#bl)"/>
<rect x="426.30" y="496.15" width="14.30" height="2.30" rx="0.60" fill="#f2302c" opacity="0.950" filter="url(#bl)"/>
<rect x="444.10" y="479.64" width="13.50" height="5.76" rx="0.5" fill="url(#gg)" opacity="0.900" filter="url(#bl)"/>
<rect x="444.10" y="496.15" width="13.50" height="2.30" rx="0.60" fill="#f2302c" opacity="0.950" filter="url(#bl)"/>
<rect x="462.00" y="479.64" width="14.00" height="5.76" rx="0.5" fill="url(#gg)" opacity="0.900" filter="url(#bl)"/>
<rect x="462.00" y="495.55" width="14.00" height="2.30" rx="0.60" fill="#f2302c" opacity="0.950" filter="url(#bl)"/>
<rect x="228.40" y="517.40" width="14.90" height="5.60" fill="#f2302c" opacity="0.315" filter="url(#bl2)"/>
<rect x="229.40" y="518.60" width="12.90" height="3.20" rx="1.60" fill="#f2302c" opacity="0.900" filter="url(#bl)"/>
<rect x="228.40" y="528.40" width="14.90" height="6.00" fill="#f2302c" opacity="0.315" filter="url(#bl2)"/>
<rect x="229.40" y="529.60" width="12.90" height="3.60" rx="1.80" fill="#f2302c" opacity="0.900" filter="url(#bl)"/>
<rect x="246.00" y="520.92" width="14.80" height="4.08" rx="0.5" fill="url(#gg)" opacity="0.200" filter="url(#bl)"/>
<rect x="246.00" y="530.10" width="14.80" height="2.60" rx="0.60" fill="#f2302c" opacity="0.950" filter="url(#bl)"/>
<rect x="265.50" y="520.92" width="13.90" height="4.08" rx="0.5" fill="url(#gg)" opacity="0.600" filter="url(#bl)"/>
<rect x="265.50" y="530.10" width="13.90" height="2.60" rx="0.60" fill="#f2302c" opacity="0.950" filter="url(#bl)"/>
<rect x="284.30" y="520.92" width="14.70" height="4.08" rx="0.5" fill="url(#gg)" opacity="0.550" filter="url(#bl)"/>
<rect x="284.30" y="530.10" width="14.70" height="2.60" rx="0.60" fill="#f2302c" opacity="0.950" filter="url(#bl)"/>
<rect x="304.30" y="520.92" width="15.30" height="4.08" rx="0.5" fill="url(#gg)" opacity="0.180" filter="url(#bl)"/>
<rect x="304.30" y="530.10" width="15.30" height="2.60" rx="0.60" fill="#f2302c" opacity="0.950" filter="url(#bl)"/>
<rect x="329.00" y="521.82" width="14.00" height="4.08" rx="0.5" fill="url(#gg)" opacity="0.120" filter="url(#bl)"/>
<rect x="329.00" y="530.50" width="14.00" height="2.60" rx="0.60" fill="#f2302c" opacity="0.950" filter="url(#bl)"/>
<rect x="348.20" y="521.82" width="13.80" height="4.08" rx="0.5" fill="url(#gg)" opacity="0.850" filter="url(#bl)"/>
<rect x="348.20" y="530.50" width="13.80" height="2.60" rx="0.60" fill="#f2302c" opacity="0.950" filter="url(#bl)"/>
<rect x="367.80" y="521.82" width="13.20" height="4.08" rx="0.5" fill="url(#gg)" opacity="0.800" filter="url(#bl)"/>
<rect x="367.80" y="530.50" width="13.20" height="2.60" rx="0.60" fill="#f2302c" opacity="0.950" filter="url(#bl)"/>
<rect x="385.50" y="521.82" width="14.00" height="4.08" rx="0.5" fill="url(#gg)" opacity="0.120" filter="url(#bl)"/>
<rect x="385.50" y="530.50" width="14.00" height="2.60" rx="0.60" fill="#f2302c" opacity="0.950" filter="url(#bl)"/>
<rect x="407.50" y="522.22" width="14.30" height="4.08" rx="0.5" fill="url(#gg)" opacity="0.350" filter="url(#bl)"/>
<rect x="407.50" y="530.00" width="14.30" height="2.60" rx="0.60" fill="#f2302c" opacity="0.950" filter="url(#bl)"/>
<rect x="426.30" y="522.22" width="14.30" height="4.08" rx="0.5" fill="url(#gg)" opacity="0.800" filter="url(#bl)"/>
<rect x="426.30" y="530.00" width="14.30" height="2.60" rx="0.60" fill="#f2302c" opacity="0.950" filter="url(#bl)"/>
<rect x="444.10" y="522.22" width="13.50" height="4.08" rx="0.5" fill="url(#gg)" opacity="0.650" filter="url(#bl)"/>
<rect x="444.10" y="530.00" width="13.50" height="2.60" rx="0.60" fill="#f2302c" opacity="0.950" filter="url(#bl)"/>
<rect x="462.00" y="522.22" width="14.00" height="4.08" rx="0.5" fill="url(#gg)" opacity="0.550" filter="url(#bl)"/>
<rect x="462.00" y="530.00" width="14.00" height="2.60" rx="0.60" fill="#f2302c" opacity="0.950" filter="url(#bl)"/>
<rect x="228.40" y="547.80" width="14.90" height="5.60" fill="#f2302c" opacity="0.332" filter="url(#bl2)"/>
<rect x="229.40" y="549.00" width="12.90" height="3.20" rx="1.60" fill="#f2302c" opacity="0.950" filter="url(#bl)"/>
<rect x="228.40" y="558.60" width="14.90" height="6.00" fill="#f2302c" opacity="0.332" filter="url(#bl2)"/>
<rect x="229.40" y="559.80" width="12.90" height="3.60" rx="1.80" fill="#f2302c" opacity="0.950" filter="url(#bl)"/>
<rect x="246.00" y="552.20" width="14.80" height="4.80" rx="0.5" fill="url(#gg)" opacity="0.900" filter="url(#bl)"/>
<rect x="246.00" y="561.40" width="14.80" height="2.40" rx="0.60" fill="#f2302c" opacity="0.950" filter="url(#bl)"/>
<rect x="265.50" y="551.44" width="13.90" height="5.76" rx="0.5" fill="url(#gg)" opacity="0.900" filter="url(#bl)"/>
<rect x="265.50" y="561.40" width="13.90" height="2.40" rx="0.60" fill="#f2302c" opacity="0.950" filter="url(#bl)"/>
<rect x="284.30" y="550.02" width="14.70" height="6.48" rx="0.5" fill="url(#gg)" opacity="0.900" filter="url(#bl)"/>
<rect x="284.30" y="559.60" width="14.70" height="2.40" rx="0.60" fill="#f2302c" opacity="0.950" filter="url(#bl)"/>
<rect x="304.30" y="549.14" width="15.30" height="6.96" rx="0.5" fill="url(#gg)" opacity="0.900" filter="url(#bl)"/>
<rect x="304.30" y="559.60" width="15.30" height="2.40" rx="0.60" fill="#f2302c" opacity="0.950" filter="url(#bl)"/>
<rect x="329.00" y="549.30" width="14.00" height="6.00" rx="0.5" fill="url(#gg)" opacity="0.900" filter="url(#bl)"/>
<rect x="329.00" y="558.70" width="14.00" height="2.40" rx="0.60" fill="#f2302c" opacity="0.950" filter="url(#bl)"/>
<rect x="348.20" y="548.82" width="13.80" height="6.48" rx="0.5" fill="url(#gg)" opacity="0.900" filter="url(#bl)"/>
<rect x="348.20" y="558.70" width="13.80" height="2.40" rx="0.60" fill="#f2302c" opacity="0.950" filter="url(#bl)"/>
<rect x="367.80" y="549.30" width="13.20" height="6.00" rx="0.5" fill="url(#gg)" opacity="0.900" filter="url(#bl)"/>
<rect x="367.80" y="558.70" width="13.20" height="2.40" rx="0.60" fill="#f2302c" opacity="0.950" filter="url(#bl)"/>
<rect x="385.50" y="549.10" width="14.00" height="6.00" rx="0.5" fill="url(#gg)" opacity="0.900" filter="url(#bl)"/>
<rect x="385.50" y="558.70" width="14.00" height="2.40" rx="0.60" fill="#f2302c" opacity="0.950" filter="url(#bl)"/>
<rect x="407.50" y="551.78" width="14.30" height="5.52" rx="0.5" fill="url(#gg)" opacity="0.900" filter="url(#bl)"/>
<rect x="407.50" y="560.50" width="14.30" height="2.40" rx="0.60" fill="#f2302c" opacity="0.950" filter="url(#bl)"/>
<rect x="426.30" y="551.70" width="14.30" height="6.00" rx="0.5" fill="url(#gg)" opacity="0.900" filter="url(#bl)"/>
<rect x="426.30" y="560.50" width="14.30" height="2.40" rx="0.60" fill="#f2302c" opacity="0.950" filter="url(#bl)"/>
<rect x="444.10" y="552.38" width="13.50" height="5.52" rx="0.5" fill="url(#gg)" opacity="0.900" filter="url(#bl)"/>
<rect x="444.10" y="560.50" width="13.50" height="2.40" rx="0.60" fill="#f2302c" opacity="0.950" filter="url(#bl)"/>
<rect x="462.00" y="551.64" width="14.00" height="5.76" rx="0.5" fill="url(#gg)" opacity="0.900" filter="url(#bl)"/>
<rect x="462.00" y="560.50" width="14.00" height="2.40" rx="0.60" fill="#f2302c" opacity="0.950" filter="url(#bl)"/>
<text x="219.30" y="384.83" font-size="7.3" fill="#231f20" stroke="#231f20" stroke-width="0.18" text-anchor="end" textLength="12.80" lengthAdjust="spacingAndGlyphs">150</text>
<line x1="222.00" y1="382.20" x2="224.60" y2="382.20" stroke="#333" stroke-width="0.9"/>
<text x="219.30" y="402.63" font-size="7.3" fill="#231f20" stroke="#231f20" stroke-width="0.18" text-anchor="end" textLength="8.60" lengthAdjust="spacingAndGlyphs">75</text>
<line x1="222.00" y1="400.00" x2="224.60" y2="400.00" stroke="#333" stroke-width="0.9"/>
<text x="219.30" y="416.53" font-size="7.3" fill="#231f20" stroke="#231f20" stroke-width="0.18" text-anchor="end" textLength="8.60" lengthAdjust="spacingAndGlyphs">50</text>
<line x1="222.00" y1="413.90" x2="224.60" y2="413.90" stroke="#333" stroke-width="0.9"/>
<text x="219.30" y="426.73" font-size="7.3" fill="#231f20" stroke="#231f20" stroke-width="0.18" text-anchor="end" textLength="8.60" lengthAdjust="spacingAndGlyphs">37</text>
<line x1="222.00" y1="424.10" x2="224.60" y2="424.10" stroke="#333" stroke-width="0.9"/>
<text x="219.30" y="439.33" font-size="7.3" fill="#231f20" stroke="#231f20" stroke-width="0.18" text-anchor="end" textLength="8.60" lengthAdjust="spacingAndGlyphs">25</text>
<line x1="222.00" y1="436.70" x2="224.60" y2="436.70" stroke="#333" stroke-width="0.9"/>
<text x="219.30" y="456.33" font-size="7.3" fill="#231f20" stroke="#231f20" stroke-width="0.18" text-anchor="end" textLength="8.60" lengthAdjust="spacingAndGlyphs">15</text>
<line x1="222.00" y1="453.70" x2="224.60" y2="453.70" stroke="#333" stroke-width="0.9"/>
<text x="219.30" y="465.03" font-size="7.3" fill="#231f20" stroke="#231f20" stroke-width="0.18" text-anchor="end" textLength="8.60" lengthAdjust="spacingAndGlyphs">10</text>
<line x1="222.00" y1="462.40" x2="224.60" y2="462.40" stroke="#333" stroke-width="0.9"/>
<text x="219.30" y="490.13" font-size="7.3" fill="#231f20" stroke="#231f20" stroke-width="0.18" text-anchor="end" textLength="8.60" lengthAdjust="spacingAndGlyphs">50</text>
<line x1="222.00" y1="487.50" x2="224.60" y2="487.50" stroke="#333" stroke-width="0.9"/>
<text x="219.30" y="500.23" font-size="7.3" fill="#231f20" stroke="#231f20" stroke-width="0.18" text-anchor="end" textLength="8.60" lengthAdjust="spacingAndGlyphs">37</text>
<line x1="222.00" y1="497.60" x2="224.60" y2="497.60" stroke="#333" stroke-width="0.9"/>
<text x="219.30" y="522.93" font-size="7.3" fill="#231f20" stroke="#231f20" stroke-width="0.18" text-anchor="end" textLength="8.60" lengthAdjust="spacingAndGlyphs">50</text>
<line x1="222.00" y1="520.30" x2="224.60" y2="520.30" stroke="#333" stroke-width="0.9"/>
<text x="219.30" y="533.43" font-size="7.3" fill="#231f20" stroke="#231f20" stroke-width="0.18" text-anchor="end" textLength="8.60" lengthAdjust="spacingAndGlyphs">37</text>
<line x1="222.00" y1="530.80" x2="224.60" y2="530.80" stroke="#333" stroke-width="0.9"/>
<text x="219.30" y="553.93" font-size="7.3" fill="#231f20" stroke="#231f20" stroke-width="0.18" text-anchor="end" textLength="8.60" lengthAdjust="spacingAndGlyphs">50</text>
<line x1="222.00" y1="551.30" x2="224.60" y2="551.30" stroke="#333" stroke-width="0.9"/>
<text x="219.30" y="564.73" font-size="7.3" fill="#231f20" stroke="#231f20" stroke-width="0.18" text-anchor="end" textLength="8.60" lengthAdjust="spacingAndGlyphs">37</text>
<line x1="222.00" y1="562.10" x2="224.60" y2="562.10" stroke="#333" stroke-width="0.9"/>
<text x="209.40" y="582.00" font-size="7" fill="#231f20" stroke="#231f20" stroke-width="0.18" textLength="12.40" lengthAdjust="spacingAndGlyphs">kDa</text>
<text x="484.20" y="405.90" font-size="7" fill="#42a46a" stroke="#42a46a" stroke-width="0.18" textLength="17.50" lengthAdjust="spacingAndGlyphs">pAKT</text>
<text x="484.20" y="414.00" font-size="7" fill="#42a46a" stroke="#42a46a" stroke-width="0.18" textLength="28.10" lengthAdjust="spacingAndGlyphs">(Ser473)</text>
<text x="484.20" y="427.00" font-size="7" fill="#e2444f" stroke="#e2444f" stroke-width="0.18" textLength="27.30" lengthAdjust="spacingAndGlyphs">GAPDH</text>
<text x="484.20" y="484.60" font-size="7" fill="#42a46a" stroke="#42a46a" stroke-width="0.18" textLength="13.70" lengthAdjust="spacingAndGlyphs">AKT</text>
<text x="484.20" y="500.00" font-size="7" fill="#e2444f" stroke="#e2444f" stroke-width="0.18" textLength="27.30" lengthAdjust="spacingAndGlyphs">GAPDH</text>
<text x="484.20" y="519.00" font-size="7" fill="#42a46a" stroke="#42a46a" stroke-width="0.18" textLength="26.00" lengthAdjust="spacingAndGlyphs">pGsk3β</text>
<text x="484.20" y="527.40" font-size="7" fill="#42a46a" stroke="#42a46a" stroke-width="0.18" textLength="19.50" lengthAdjust="spacingAndGlyphs">(Ser9)</text>
<text x="484.20" y="535.00" font-size="7" fill="#e2444f" stroke="#e2444f" stroke-width="0.18" textLength="27.30" lengthAdjust="spacingAndGlyphs">GAPDH</text>
<text x="484.20" y="557.30" font-size="7" fill="#42a46a" stroke="#42a46a" stroke-width="0.18" textLength="22.00" lengthAdjust="spacingAndGlyphs">Gsk3β</text>
<text x="484.20" y="565.50" font-size="7" fill="#e2444f" stroke="#e2444f" stroke-width="0.18" textLength="27.30" lengthAdjust="spacingAndGlyphs">GAPDH</text>
<rect x="0.5" y="0.5" width="519" height="614" fill="none" stroke="#666" stroke-width="1"/>
</svg></body></html>
